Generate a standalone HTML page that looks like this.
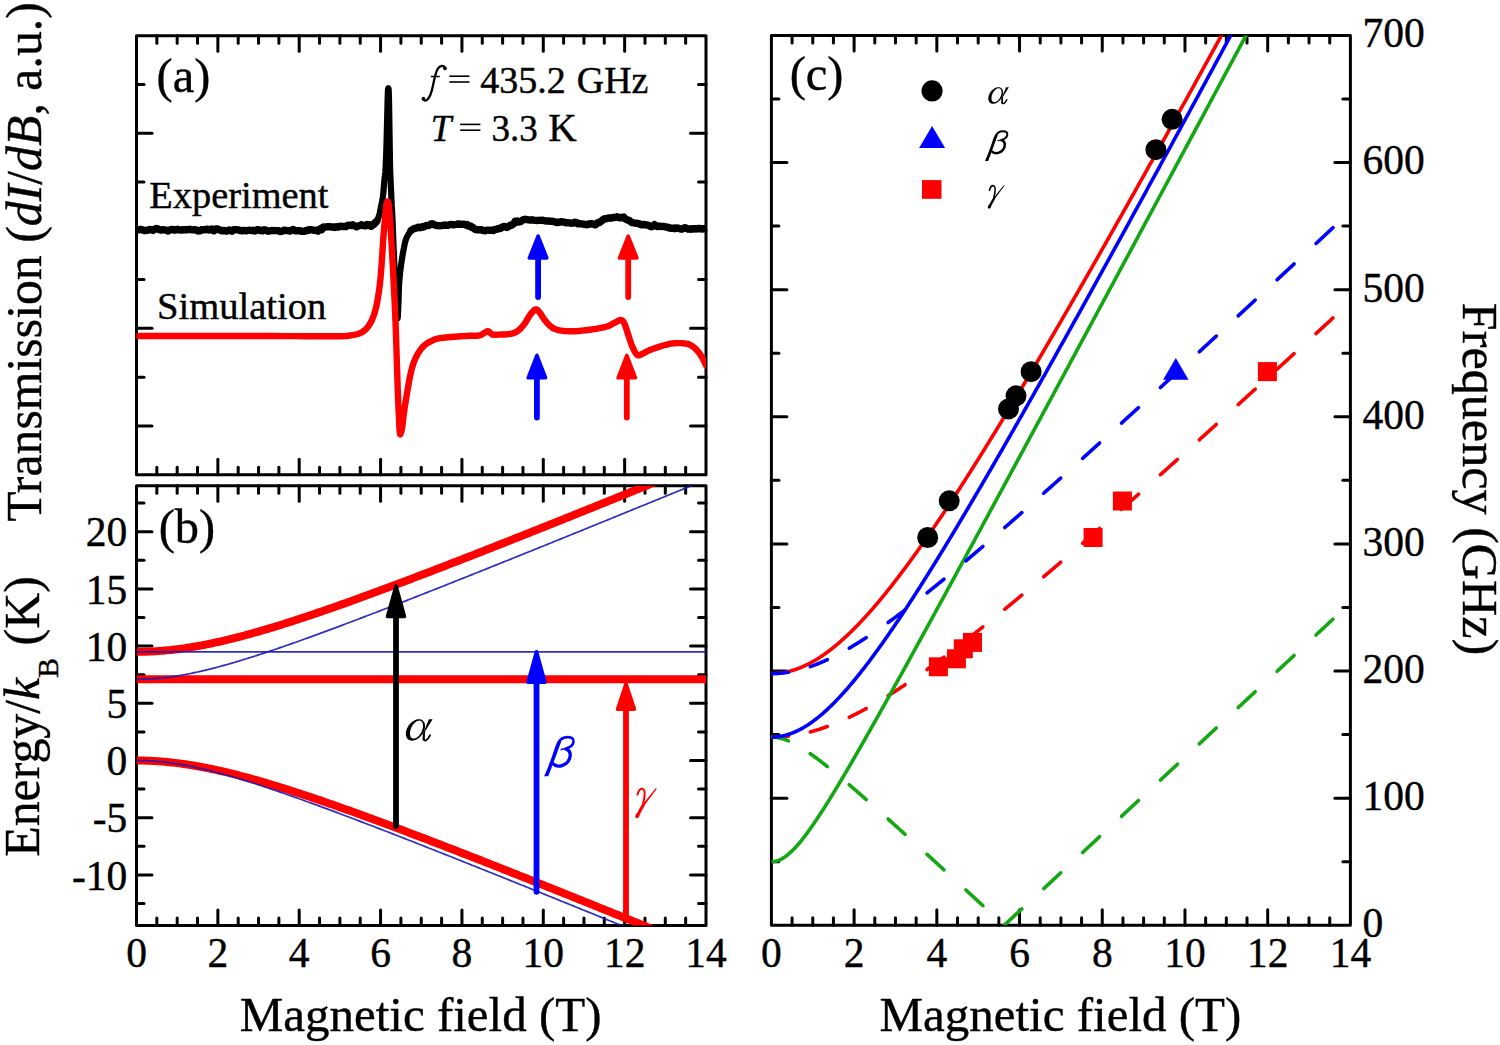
<!DOCTYPE html>
<html><head><meta charset="utf-8"><title>Figure</title>
<style>html,body{margin:0;padding:0;background:#fff;}body{width:1500px;height:1045px;overflow:hidden;font-family:"Liberation Serif",serif;}svg{display:block;}</style>
</head><body>
<svg width="1500" height="1045" viewBox="0 0 1500 1045" font-family="Liberation Serif, serif">
<rect width="1500" height="1045" fill="#fff"/>
<defs><clipPath id="ca"><rect x="136.5" y="35.7" width="569.5" height="439.0"/></clipPath>
<clipPath id="cb"><rect x="136.5" y="485.8" width="569.5" height="439.59999999999997"/></clipPath>
<clipPath id="cc"><rect x="771.4" y="35.4" width="579.0000000000001" height="889.9"/></clipPath></defs>
<rect x="136.5" y="35.7" width="569.5" height="439" fill="none" stroke="#000" stroke-width="3.0" stroke-linejoin="round"/>
<line x1="156.84" y1="474.7" x2="156.84" y2="467.2" stroke="#000" stroke-width="3.0" stroke-linecap="round"/>
<line x1="156.84" y1="35.7" x2="156.84" y2="43.2" stroke="#000" stroke-width="3.0" stroke-linecap="round"/>
<line x1="177.18" y1="474.7" x2="177.18" y2="467.2" stroke="#000" stroke-width="3.0" stroke-linecap="round"/>
<line x1="177.18" y1="35.7" x2="177.18" y2="43.2" stroke="#000" stroke-width="3.0" stroke-linecap="round"/>
<line x1="197.52" y1="474.7" x2="197.52" y2="467.2" stroke="#000" stroke-width="3.0" stroke-linecap="round"/>
<line x1="197.52" y1="35.7" x2="197.52" y2="43.2" stroke="#000" stroke-width="3.0" stroke-linecap="round"/>
<line x1="217.86" y1="474.7" x2="217.86" y2="459.2" stroke="#000" stroke-width="3.0" stroke-linecap="round"/>
<line x1="217.86" y1="35.7" x2="217.86" y2="51.2" stroke="#000" stroke-width="3.0" stroke-linecap="round"/>
<line x1="238.2" y1="474.7" x2="238.2" y2="467.2" stroke="#000" stroke-width="3.0" stroke-linecap="round"/>
<line x1="238.2" y1="35.7" x2="238.2" y2="43.2" stroke="#000" stroke-width="3.0" stroke-linecap="round"/>
<line x1="258.54" y1="474.7" x2="258.54" y2="467.2" stroke="#000" stroke-width="3.0" stroke-linecap="round"/>
<line x1="258.54" y1="35.7" x2="258.54" y2="43.2" stroke="#000" stroke-width="3.0" stroke-linecap="round"/>
<line x1="278.88" y1="474.7" x2="278.88" y2="467.2" stroke="#000" stroke-width="3.0" stroke-linecap="round"/>
<line x1="278.88" y1="35.7" x2="278.88" y2="43.2" stroke="#000" stroke-width="3.0" stroke-linecap="round"/>
<line x1="299.21" y1="474.7" x2="299.21" y2="459.2" stroke="#000" stroke-width="3.0" stroke-linecap="round"/>
<line x1="299.21" y1="35.7" x2="299.21" y2="51.2" stroke="#000" stroke-width="3.0" stroke-linecap="round"/>
<line x1="319.55" y1="474.7" x2="319.55" y2="467.2" stroke="#000" stroke-width="3.0" stroke-linecap="round"/>
<line x1="319.55" y1="35.7" x2="319.55" y2="43.2" stroke="#000" stroke-width="3.0" stroke-linecap="round"/>
<line x1="339.89" y1="474.7" x2="339.89" y2="467.2" stroke="#000" stroke-width="3.0" stroke-linecap="round"/>
<line x1="339.89" y1="35.7" x2="339.89" y2="43.2" stroke="#000" stroke-width="3.0" stroke-linecap="round"/>
<line x1="360.23" y1="474.7" x2="360.23" y2="467.2" stroke="#000" stroke-width="3.0" stroke-linecap="round"/>
<line x1="360.23" y1="35.7" x2="360.23" y2="43.2" stroke="#000" stroke-width="3.0" stroke-linecap="round"/>
<line x1="380.57" y1="474.7" x2="380.57" y2="459.2" stroke="#000" stroke-width="3.0" stroke-linecap="round"/>
<line x1="380.57" y1="35.7" x2="380.57" y2="51.2" stroke="#000" stroke-width="3.0" stroke-linecap="round"/>
<line x1="400.91" y1="474.7" x2="400.91" y2="467.2" stroke="#000" stroke-width="3.0" stroke-linecap="round"/>
<line x1="400.91" y1="35.7" x2="400.91" y2="43.2" stroke="#000" stroke-width="3.0" stroke-linecap="round"/>
<line x1="421.25" y1="474.7" x2="421.25" y2="467.2" stroke="#000" stroke-width="3.0" stroke-linecap="round"/>
<line x1="421.25" y1="35.7" x2="421.25" y2="43.2" stroke="#000" stroke-width="3.0" stroke-linecap="round"/>
<line x1="441.59" y1="474.7" x2="441.59" y2="467.2" stroke="#000" stroke-width="3.0" stroke-linecap="round"/>
<line x1="441.59" y1="35.7" x2="441.59" y2="43.2" stroke="#000" stroke-width="3.0" stroke-linecap="round"/>
<line x1="461.93" y1="474.7" x2="461.93" y2="459.2" stroke="#000" stroke-width="3.0" stroke-linecap="round"/>
<line x1="461.93" y1="35.7" x2="461.93" y2="51.2" stroke="#000" stroke-width="3.0" stroke-linecap="round"/>
<line x1="482.27" y1="474.7" x2="482.27" y2="467.2" stroke="#000" stroke-width="3.0" stroke-linecap="round"/>
<line x1="482.27" y1="35.7" x2="482.27" y2="43.2" stroke="#000" stroke-width="3.0" stroke-linecap="round"/>
<line x1="502.61" y1="474.7" x2="502.61" y2="467.2" stroke="#000" stroke-width="3.0" stroke-linecap="round"/>
<line x1="502.61" y1="35.7" x2="502.61" y2="43.2" stroke="#000" stroke-width="3.0" stroke-linecap="round"/>
<line x1="522.95" y1="474.7" x2="522.95" y2="467.2" stroke="#000" stroke-width="3.0" stroke-linecap="round"/>
<line x1="522.95" y1="35.7" x2="522.95" y2="43.2" stroke="#000" stroke-width="3.0" stroke-linecap="round"/>
<line x1="543.29" y1="474.7" x2="543.29" y2="459.2" stroke="#000" stroke-width="3.0" stroke-linecap="round"/>
<line x1="543.29" y1="35.7" x2="543.29" y2="51.2" stroke="#000" stroke-width="3.0" stroke-linecap="round"/>
<line x1="563.62" y1="474.7" x2="563.62" y2="467.2" stroke="#000" stroke-width="3.0" stroke-linecap="round"/>
<line x1="563.62" y1="35.7" x2="563.62" y2="43.2" stroke="#000" stroke-width="3.0" stroke-linecap="round"/>
<line x1="583.96" y1="474.7" x2="583.96" y2="467.2" stroke="#000" stroke-width="3.0" stroke-linecap="round"/>
<line x1="583.96" y1="35.7" x2="583.96" y2="43.2" stroke="#000" stroke-width="3.0" stroke-linecap="round"/>
<line x1="604.3" y1="474.7" x2="604.3" y2="467.2" stroke="#000" stroke-width="3.0" stroke-linecap="round"/>
<line x1="604.3" y1="35.7" x2="604.3" y2="43.2" stroke="#000" stroke-width="3.0" stroke-linecap="round"/>
<line x1="624.64" y1="474.7" x2="624.64" y2="459.2" stroke="#000" stroke-width="3.0" stroke-linecap="round"/>
<line x1="624.64" y1="35.7" x2="624.64" y2="51.2" stroke="#000" stroke-width="3.0" stroke-linecap="round"/>
<line x1="644.98" y1="474.7" x2="644.98" y2="467.2" stroke="#000" stroke-width="3.0" stroke-linecap="round"/>
<line x1="644.98" y1="35.7" x2="644.98" y2="43.2" stroke="#000" stroke-width="3.0" stroke-linecap="round"/>
<line x1="665.32" y1="474.7" x2="665.32" y2="467.2" stroke="#000" stroke-width="3.0" stroke-linecap="round"/>
<line x1="665.32" y1="35.7" x2="665.32" y2="43.2" stroke="#000" stroke-width="3.0" stroke-linecap="round"/>
<line x1="685.66" y1="474.7" x2="685.66" y2="467.2" stroke="#000" stroke-width="3.0" stroke-linecap="round"/>
<line x1="685.66" y1="35.7" x2="685.66" y2="43.2" stroke="#000" stroke-width="3.0" stroke-linecap="round"/>
<line x1="136.5" y1="84.48" x2="144" y2="84.48" stroke="#000" stroke-width="3.0" stroke-linecap="round"/>
<line x1="706" y1="84.48" x2="698.5" y2="84.48" stroke="#000" stroke-width="3.0" stroke-linecap="round"/>
<line x1="136.5" y1="133.26" x2="152" y2="133.26" stroke="#000" stroke-width="3.0" stroke-linecap="round"/>
<line x1="706" y1="133.26" x2="690.5" y2="133.26" stroke="#000" stroke-width="3.0" stroke-linecap="round"/>
<line x1="136.5" y1="182.03" x2="144" y2="182.03" stroke="#000" stroke-width="3.0" stroke-linecap="round"/>
<line x1="706" y1="182.03" x2="698.5" y2="182.03" stroke="#000" stroke-width="3.0" stroke-linecap="round"/>
<line x1="136.5" y1="230.81" x2="152" y2="230.81" stroke="#000" stroke-width="3.0" stroke-linecap="round"/>
<line x1="706" y1="230.81" x2="690.5" y2="230.81" stroke="#000" stroke-width="3.0" stroke-linecap="round"/>
<line x1="136.5" y1="279.59" x2="144" y2="279.59" stroke="#000" stroke-width="3.0" stroke-linecap="round"/>
<line x1="706" y1="279.59" x2="698.5" y2="279.59" stroke="#000" stroke-width="3.0" stroke-linecap="round"/>
<line x1="136.5" y1="328.37" x2="152" y2="328.37" stroke="#000" stroke-width="3.0" stroke-linecap="round"/>
<line x1="706" y1="328.37" x2="690.5" y2="328.37" stroke="#000" stroke-width="3.0" stroke-linecap="round"/>
<line x1="136.5" y1="377.14" x2="144" y2="377.14" stroke="#000" stroke-width="3.0" stroke-linecap="round"/>
<line x1="706" y1="377.14" x2="698.5" y2="377.14" stroke="#000" stroke-width="3.0" stroke-linecap="round"/>
<line x1="136.5" y1="425.92" x2="152" y2="425.92" stroke="#000" stroke-width="3.0" stroke-linecap="round"/>
<line x1="706" y1="425.92" x2="690.5" y2="425.92" stroke="#000" stroke-width="3.0" stroke-linecap="round"/>
<g clip-path="url(#ca)"><polyline points="136.5,229.92 137.78,229.81 139.06,229.8 140.14,229.34 141.23,229.35 142.31,229.8 143.59,230.23 144.87,230.63 146.15,230.36 147.22,230.35 148.3,230.08 149.38,229.48 150.46,229.63 151.62,229.73 152.79,230.42 153.96,229.61 155.12,228.9 156.35,228.46 157.58,228.85 158.81,229.51 160.04,229.77 161.06,230.09 162.07,229.79 163.08,229.91 164.09,229.87 165.1,229.87 166.12,230.31 167.14,230.37 168.15,230.96 169.17,230.22 170.19,229.81 171.19,229.33 172.19,229.5 173.19,229.93 174.19,230.12 175.19,230.02 176.39,229.52 177.6,229.28 178.8,229.81 180,229.87 181.18,230.11 182.37,229.87 183.55,229.66 184.74,229.6 185.95,229.89 187.16,229.73 188.37,229.62 189.58,229.18 190.82,229.56 192.05,229.83 193.29,229.85 194.52,229.65 195.52,229.76 196.53,230 197.53,230.77 198.53,230.97 199.53,230.88 200.54,230.63 201.56,229.76 202.57,229.85 203.58,229.63 204.59,229.9 205.61,229.31 206.63,229.21 207.65,229.19 208.67,230 209.69,229.67 210.71,229.39 211.73,229.06 212.75,230.17 213.77,230.82 214.8,230.15 215.82,228.9 216.84,228.84 217.86,229.21 218.88,229.66 219.9,229.86 220.91,230.45 221.93,230.86 222.94,230.64 223.96,230.43 224.97,230.89 225.98,231.02 226.98,231.05 227.99,230.72 228.99,230.04 230,230.28 231.02,230.42 232.04,231.09 233.05,230.06 234.07,229.56 235.09,229.67 236.14,229.72 237.18,229.87 238.23,229.93 239.27,230.09 240.32,230.66 241.38,230.52 242.44,230.89 243.51,230.49 244.57,230.52 245.63,230.61 246.7,230.88 247.76,230.47 248.83,230.3 249.89,230.27 250.96,230.49 252.02,230.35 253.08,230.32 254.13,230.78 255.19,230.93 256.25,230.19 257.29,229.69 258.33,229.79 259.36,230.13 260.4,230.62 261.44,230.35 262.45,230.85 263.45,230 264.46,230.08 265.46,229.89 266.47,230.65 267.67,231.18 268.88,231.09 270.08,230.78 271.28,230.56 272.41,230.64 273.54,230.55 274.68,230.59 275.81,230.59 276.86,230.65 277.9,230.81 278.95,230.82 280,231.46 281.3,231.33 282.6,231.02 283.9,230.28 285.12,230.18 286.35,230.62 287.58,230.64 288.75,230.78 289.91,231.08 291.07,230.39 292.16,229.93 293.26,229.44 294.35,230.39 295.38,230.83 296.41,230.63 297.44,230.73 298.88,230.76 300.33,230.75 301.68,231.32 303.03,231.35 304.28,231.35 305.54,230.55 306.7,230.36 307.86,230.51 308.93,229.66 310,229.56 311.9,229.85 313.51,230.29 314.89,230.35 316.06,230.25 317.06,230.8 317.94,231.18 318.74,230.21 319.49,229.68 320.23,228.93 321,229.48 321.7,229.71 322.24,228.69 322.66,228.52 323,227.38 323.31,228.1 323.64,226.94 324.03,227.14 324.52,227 325.16,227.18 326,226.99 327.01,226.73 328.13,226.74 329.35,226.6 330.66,226.82 332.06,227.11 333.54,227.06 335.08,227.45 336.67,226.76 338.32,227.13 340,226.14 341.81,226.49 343.81,226.35 344.87,226.47 345.94,226.59 347.04,225.84 348.14,225.25 349.26,225.2 350.38,225.34 351.48,225.45 352.58,224.74 353.63,225.4 354.69,225.92 356.67,226.77 358.46,225.98 360,225.67 361.3,224.77 362.43,225.22 363.41,225.65 364.26,225.64 365,225.82 365.66,225.55 366.27,225.71 366.85,224.53 367.42,224.61 368,224.59 368.56,225.01 369.05,224.71 369.48,224.91 369.87,225.63 370.22,225.24 370.56,225.51 370.9,225.52 371.24,226.28 371.6,225.8 372,224.97 372.43,224.66 372.88,224.56 373.33,224.61 373.79,224.49 374.26,224.08 374.71,222.99 375.16,222.8 375.6,222.29 376.01,222.02 376.4,221.55 376.77,221.06 377.12,220.36 377.47,219.7 377.8,219 378.11,218.3 378.42,217.44 378.71,216.67 378.98,215.84 379.25,215.1 379.5,214.15 379.73,213.27 379.94,212.18 380.14,211.27 380.32,210.19 380.49,209.46 380.65,208.53 380.81,207.73 380.97,206.73 381.13,205.89 381.3,204.95 381.48,204.11 381.65,203.4 381.83,202.65 382,201.89 382.18,201.04 382.35,200.19 382.52,199.19 382.68,198.12 382.84,197.14 383,195.93 383.15,194.58 383.31,193.06 383.45,191.57 383.6,189.88 383.74,188.1 383.88,186.29 384.02,184.49 384.15,182.7 384.28,181.13 384.4,179.92 384.52,178.85 384.63,177.91 384.73,177.02 384.83,176.27 384.93,175.66 385.03,174.95 385.12,174.3 385.21,173.25 385.31,172.25 385.4,170.83 385.49,169.27 385.59,167.53 385.68,165.64 385.73,164.61 385.78,163.49 385.82,162.46 385.87,161.5 385.91,160.49 385.96,159.4 386,158.33 386.05,157.16 386.09,156.03 386.13,154.86 386.18,153.69 386.22,152.29 386.26,151.13 386.3,150.01 386.34,148.92 386.38,147.63 386.42,146.42 386.45,145.07 386.49,143.84 386.53,142.58 386.56,141.31 386.6,140 386.63,138.63 386.67,137.34 386.7,135.99 386.74,134.58 386.77,133.19 386.8,131.8 386.84,130.44 386.87,129.22 386.9,127.92 386.93,126.58 386.97,125.19 387,123.9 387.03,122.7 387.06,121.5 387.1,120.17 387.13,118.76 387.16,117.6 387.19,116.42 387.23,115.2 387.26,113.56 387.29,112.24 387.32,110.94 387.35,109.96 387.38,108.7 387.41,107.47 387.44,106.2 387.47,104.93 387.49,103.88 387.52,102.84 387.55,101.89 387.6,100.06 387.65,98.51 387.69,96.98 387.73,95.51 387.76,94.21 387.8,93.24 387.84,92.3 387.87,91.38 387.91,90.76 387.95,90.2 388,89.62 388.05,88.93 388.11,88.61 388.17,88.48 388.24,88.53 388.3,88.42 388.36,88.35 388.43,88.41 388.49,88.48 388.55,88.86 388.6,89.31 388.65,90.05 388.69,90.7 388.73,91.43 388.77,92.27 388.81,93.3 388.85,94.42 388.89,95.6 388.92,96.9 388.96,98.4 389,100.03 389.04,101.85 389.06,102.79 389.08,103.81 389.1,104.98 389.12,106.15 389.14,107.34 389.16,108.55 389.18,109.78 389.2,110.95 389.22,112.26 389.24,113.62 389.26,115.04 389.28,116.31 389.3,117.59 389.32,118.81 389.34,120 389.36,121.28 389.38,122.55 389.4,123.99 389.42,125.19 389.44,126.35 389.46,127.55 389.48,129.02 389.5,130.49 389.52,131.8 389.54,132.99 389.56,134.39 389.58,135.86 389.6,137.26 389.62,138.66 389.64,140.01 389.66,141.32 389.68,142.59 389.7,143.94 389.72,145.29 389.74,146.57 389.76,147.65 389.78,148.78 389.8,149.97 389.82,151.19 389.84,152.43 389.86,153.57 389.88,154.79 389.9,155.84 389.91,157.09 389.93,158.22 389.95,159.32 389.97,160.24 389.99,161.41 390.01,162.45 390.03,163.54 390.05,164.45 390.07,165.49 390.11,167.32 390.15,169.14 390.2,170.96 390.25,172.79 390.31,174.38 390.36,175.81 390.42,177.16 390.48,178.46 390.54,179.77 390.61,181 390.67,182.25 390.74,183.62 390.8,184.96 390.86,186.36 390.93,187.72 390.99,189.07 391.05,190.47 391.12,191.75 391.19,193.25 391.26,194.82 391.33,196.56 391.41,198.28 391.5,200.02 391.59,201.8 391.65,202.94 391.7,203.99 391.75,205.21 391.81,206.1 391.86,207.15 391.92,208.07 391.98,209.3 392.04,210.49 392.1,211.63 392.16,212.73 392.21,213.87 392.27,215.03 392.33,216.08 392.39,217.13 392.44,218.35 392.5,219.53 392.55,220.74 392.6,221.93 392.65,223.15 392.69,224.28 392.74,225.4 392.78,226.48 392.82,227.36 392.86,228.25 392.89,229.12 392.93,230.14 392.97,231.2 393.01,232.3 393.05,233.48 393.08,234.46 393.13,235.53 393.17,236.64 393.22,237.97 393.27,239.26 393.32,240.62 393.37,241.94 393.44,243.5 393.5,245.02 393.55,246.18 393.6,247.2 393.64,248.28 393.69,249.34 393.75,250.55 393.8,251.79 393.86,253.18 393.91,254.58 393.97,255.9 394.01,256.94 394.06,257.95 394.1,258.95 394.15,260.11 394.19,261.23 394.24,262.31 394.28,263.29 394.33,264.31 394.38,265.39 394.43,266.56 394.47,267.67 394.52,268.71 394.57,269.65 394.62,270.68 394.67,271.75 394.72,272.84 394.77,273.9 394.81,274.97 394.86,276.09 394.91,277.18 394.96,278.2 395.01,279.35 395.06,280.3 395.11,281.4 395.17,282.53 395.24,283.88 395.3,284.93 395.37,286.14 395.43,287.35 395.5,288.8 395.55,290 395.6,291 395.65,292.05 395.7,292.95 395.75,294.01 395.81,294.99 395.86,295.95 395.91,296.95 395.97,297.87 396.02,298.97 396.08,299.89 396.13,300.99 396.2,302.35 396.27,303.71 396.34,305 396.41,306.15 396.48,307.38 396.56,308.54 396.62,309.57 396.69,310.69 396.76,311.87 396.86,313.18 396.95,314.63 397.04,315.75 397.14,316.85 397.3,318.12 397.45,318.53 397.58,318.4 397.71,317.49 397.82,316.21 397.93,314.34 397.97,313.34 398.02,312.33 398.07,311.36 398.12,310.32 398.17,309.14 398.21,308.01 398.26,306.95 398.31,305.96 398.4,304.11 398.49,302.37 398.56,300.38 398.58,299.41 398.61,298.33 398.64,297.35 398.67,296.11 398.7,295.03 398.72,293.78 398.76,292.84 398.79,291.82 398.82,290.75 398.86,289.43 398.9,288.14 398.95,287.19 399,286.16 399.06,285.17 399.13,284.01 399.2,282.97 399.28,281.85 399.36,280.82 399.45,279.69 399.54,278.71 399.63,277.67 399.73,276.74 399.83,275.68 399.93,274.56 400.04,273.49 400.15,272.42 400.27,271.53 400.39,270.52 400.51,269.49 400.64,268.31 400.77,267.17 400.91,266.07 401.05,265.02 401.19,264.04 401.35,263.08 401.5,262.09 401.66,261.12 401.83,259.97 402.01,258.82 402.18,257.74 402.37,256.52 402.56,255.35 402.76,254.03 402.95,253.01 403.16,251.93 403.36,250.77 403.57,249.68 403.78,248.55 404,247.55 404.21,246.35 404.43,245.3 404.64,244.26 405.07,242.49 405.5,240.87 405.93,239.5 406.38,238.27 406.83,237.28 407.29,236.31 407.75,235.51 408.21,234.72 408.67,233.96 409.12,233.19 409.57,232.52 410,231.94 410.41,231.42 410.78,230.92 411.13,230.51 411.48,230.13 411.82,229.86 412.19,229.65 412.57,229.42 413,229.15 413.47,228.8 414,228.7 414.58,228.49 415.19,228.38 415.84,228.09 416.52,228 417.23,227.6 417.98,227.16 418.76,227.51 419.57,227.68 420.42,227.55 421.3,227.17 422.21,226.64 423.14,227.09 424.09,226.71 425.08,226 426.11,225.52 427.18,225.61 428.29,225.65 429.47,225.17 430.7,224.09 432,223.76 433.39,224.12 434.86,225.07 436.41,225.61 438.02,225.64 439.67,225.88 441.35,225.66 443.03,225.45 444.72,224.96 446.38,225.33 448,225.22 449.65,224.63 451.37,224.46 453.14,224.74 454.91,224.57 456.67,224.28 458.37,223.9 459.99,224.34 461.48,224.28 462.83,224.38 464,224.12 464.96,224.54 465.74,225.08 466.37,225.17 466.89,225.23 467.31,224.69 467.69,225 468.04,225.16 468.4,226.08 468.81,226.16 469.3,226.13 469.81,225.99 470.29,225.96 470.75,226.34 471.2,226.45 471.67,227.43 472.16,227.45 472.69,227.42 473.29,227.66 473.95,228.41 474.7,229.12 475.53,229.62 476.4,229.66 477.33,229.84 478.31,229.89 479.34,229.63 480.42,229.73 481.56,229.66 482.75,230.48 484,230.65 485.3,230.71 486.71,230.14 488.24,230.14 489.87,230.37 491.57,230.13 493.29,230.51 495.02,229.49 496.72,229.41 498.35,228.39 499.89,228.6 501.3,227.89 502.58,226.85 503.78,226.38 504.9,226.67 505.96,227.16 506.98,227.43 507.97,226.85 508.96,226.35 509.94,225.42 510.95,225.08 512,225.14 513.05,224.05 514.06,223.37 515.04,221.3 516.03,221.48 517.02,221.02 518.04,221.97 519.1,221.98 520.22,221.73 521.42,221.04 522.7,219.96 524.09,219.52 525.56,219.28 527.11,219.57 528.72,219.82 530.37,220.05 532.05,219.82 533.73,220.15 535.42,220.35 537.08,220.43 538.7,220.42 540.3,220.3 541.89,220.08 543.48,220.46 545.07,220.8 546.66,221.01 548.26,221.05 549.86,221.18 551.46,221.15 553.08,221.48 554.7,221.62 556.31,222.54 557.9,222.24 559.48,222.23 561.07,221.6 562.66,222 564.29,222.2 565.95,222.74 567.66,222.68 569.44,222.82 571.3,223.25 572.3,223.09 573.31,223.11 574.4,222.29 575.5,222.35 576.65,222.65 577.81,223.82 579,223.92 580.19,223.74 581.39,223.88 582.58,223.97 583.75,224.3 584.92,224.39 586.04,224.55 587.17,224.76 588.21,224.04 589.25,224.12 591.11,223.74 592.7,223.98 593.99,224.21 595.04,224.89 595.88,224.52 596.57,223.82 597.14,223.04 597.66,222.71 598.15,222.81 598.68,222.58 599.28,222.55 600,222.26 600.79,221.25 601.57,221.17 602.35,220.06 603.13,219.84 603.94,218.93 604.79,218.81 605.67,218.84 606.61,218.62 607.62,218.26 608.7,217.87 609.88,218.11 611.15,218.01 612.5,217.75 613.9,217.47 615.34,217.42 616.81,216.82 618.27,217.2 619.72,217.88 621.14,217.81 622.5,217.26 623.78,217.08 624.99,218.55 626.14,219.44 627.28,219.96 628.42,220.11 629.61,220.74 630.86,221.94 632.21,222.65 633.68,222.94 635.3,223.12 637.09,223.26 639.03,223.83 640.06,223.84 641.09,224.73 642.17,224.71 643.25,224.68 644.36,224.51 645.47,224.81 646.6,224.96 647.73,225.18 648.88,225.51 650.02,226.18 651.15,226.79 652.29,226.39 653.41,225.97 654.53,224.73 655.61,225.68 656.7,225.69 657.75,226.57 658.8,226.25 659.83,226.17 660.86,226.44 661.87,226.38 662.89,226.35 663.9,226.42 664.91,226.92 665.92,227.02 666.94,227.3 667.97,227.1 669,227.95 670.06,227.94 671.12,228.39 672.22,228.26 673.31,228.5 674.46,228.04 675.6,228.43 676.8,227.97 678,228.14 679.33,228.52 680.65,228.98 682.14,229.01 683.62,228.15 684.68,227.79 685.73,227.93 686.79,228.62 687.88,229.03 688.97,229.15 690.06,228.86 691.15,229.18 692.24,228.9 693.33,228.76 694.39,228.63 695.44,228.79 696.49,228.89 697.97,228.44 699.45,228.36 700.77,228.66 702.08,228.97 703.19,228.68 704.3,228.64 706,228.43" fill="none" stroke="#000" stroke-width="6.2" stroke-linejoin="round" stroke-linecap="round"/>
<polyline points="136.5,229.92 137.78,229.81 139.06,229.8 140.14,229.34 141.23,229.35 142.31,229.8 143.59,230.23 144.87,230.63 146.15,230.36 147.22,230.35 148.3,230.08 149.38,229.48 150.46,229.63 151.62,229.73 152.79,230.42 153.96,229.61 155.12,228.9 156.35,228.46 157.58,228.85 158.81,229.51 160.04,229.77 161.06,230.09 162.07,229.79 163.08,229.91 164.09,229.87 165.1,229.87 166.12,230.31 167.14,230.37 168.15,230.96 169.17,230.22 170.19,229.81 171.19,229.33 172.19,229.5 173.19,229.93 174.19,230.12 175.19,230.02 176.39,229.52 177.6,229.28 178.8,229.81 180,229.87 181.18,230.11 182.37,229.87 183.55,229.66 184.74,229.6 185.95,229.89 187.16,229.73 188.37,229.62 189.58,229.18 190.82,229.56 192.05,229.83 193.29,229.85 194.52,229.65 195.52,229.76 196.53,230 197.53,230.77 198.53,230.97 199.53,230.88 200.54,230.63 201.56,229.76 202.57,229.85 203.58,229.63 204.59,229.9 205.61,229.31 206.63,229.21 207.65,229.19 208.67,230 209.69,229.67 210.71,229.39 211.73,229.06 212.75,230.17 213.77,230.82 214.8,230.15 215.82,228.9 216.84,228.84 217.86,229.21 218.88,229.66 219.9,229.86 220.91,230.45 221.93,230.86 222.94,230.64 223.96,230.43 224.97,230.89 225.98,231.02 226.98,231.05 227.99,230.72 228.99,230.04 230,230.28 231.02,230.42 232.04,231.09 233.05,230.06 234.07,229.56 235.09,229.67 236.14,229.72 237.18,229.87 238.23,229.93 239.27,230.09 240.32,230.66 241.38,230.52 242.44,230.89 243.51,230.49 244.57,230.52 245.63,230.61 246.7,230.88 247.76,230.47 248.83,230.3 249.89,230.27 250.96,230.49 252.02,230.35 253.08,230.32 254.13,230.78 255.19,230.93 256.25,230.19 257.29,229.69 258.33,229.79 259.36,230.13 260.4,230.62 261.44,230.35 262.45,230.85 263.45,230 264.46,230.08 265.46,229.89 266.47,230.65 267.67,231.18 268.88,231.09 270.08,230.78 271.28,230.56 272.41,230.64 273.54,230.55 274.68,230.59 275.81,230.59 276.86,230.65 277.9,230.81 278.95,230.82 280,231.46 281.3,231.33 282.6,231.02 283.9,230.28 285.12,230.18 286.35,230.62 287.58,230.64 288.75,230.78 289.91,231.08 291.07,230.39 292.16,229.93 293.26,229.44 294.35,230.39 295.38,230.83 296.41,230.63 297.44,230.73 298.88,230.76 300.33,230.75 301.68,231.32 303.03,231.35 304.28,231.35 305.54,230.55 306.7,230.36 307.86,230.51 308.93,229.66 310,229.56 311.9,229.85 313.51,230.29 314.89,230.35 316.06,230.25 317.06,230.8 317.94,231.18 318.74,230.21 319.49,229.68 320.23,228.93 321,229.48 321.7,229.71 322.24,228.69 322.66,228.52 323,227.38 323.31,228.1 323.64,226.94 324.03,227.14 324.52,227 325.16,227.18 326,226.99 327.01,226.73 328.13,226.74 329.35,226.6 330.66,226.82 332.06,227.11 333.54,227.06 335.08,227.45 336.67,226.76 338.32,227.13 340,226.14 341.81,226.49 343.81,226.35 344.87,226.47 345.94,226.59 347.04,225.84 348.14,225.25 349.26,225.2 350.38,225.34 351.48,225.45 352.58,224.74 353.63,225.4 354.69,225.92 356.67,226.77 358.46,225.98 360,225.67 361.3,224.77 362.43,225.22 363.41,225.65 364.26,225.64 365,225.82 365.66,225.55 366.27,225.71 366.85,224.53 367.42,224.61 368,224.59 368.56,225.01 369.05,224.71 369.48,224.91 369.87,225.63 370.22,225.24 370.56,225.51 370.9,225.52 371.24,226.28 371.6,225.8 372,224.97 372.43,224.66 372.88,224.56 373.33,224.61 373.79,224.49 374.26,224.08 374.71,222.99 375.16,222.8 375.6,222.29 376.01,222.02 376.4,221.55 376.77,221.06" fill="none" stroke="#000" stroke-width="7.4" stroke-linejoin="round" stroke-linecap="round"/>
<polyline points="411.13,230.51 411.48,230.13 411.82,229.86 412.19,229.65 412.57,229.42 413,229.15 413.47,228.8 414,228.7 414.58,228.49 415.19,228.38 415.84,228.09 416.52,228 417.23,227.6 417.98,227.16 418.76,227.51 419.57,227.68 420.42,227.55 421.3,227.17 422.21,226.64 423.14,227.09 424.09,226.71 425.08,226 426.11,225.52 427.18,225.61 428.29,225.65 429.47,225.17 430.7,224.09 432,223.76 433.39,224.12 434.86,225.07 436.41,225.61 438.02,225.64 439.67,225.88 441.35,225.66 443.03,225.45 444.72,224.96 446.38,225.33 448,225.22 449.65,224.63 451.37,224.46 453.14,224.74 454.91,224.57 456.67,224.28 458.37,223.9 459.99,224.34 461.48,224.28 462.83,224.38 464,224.12 464.96,224.54 465.74,225.08 466.37,225.17 466.89,225.23 467.31,224.69 467.69,225 468.04,225.16 468.4,226.08 468.81,226.16 469.3,226.13 469.81,225.99 470.29,225.96 470.75,226.34 471.2,226.45 471.67,227.43 472.16,227.45 472.69,227.42 473.29,227.66 473.95,228.41 474.7,229.12 475.53,229.62 476.4,229.66 477.33,229.84 478.31,229.89 479.34,229.63 480.42,229.73 481.56,229.66 482.75,230.48 484,230.65 485.3,230.71 486.71,230.14 488.24,230.14 489.87,230.37 491.57,230.13 493.29,230.51 495.02,229.49 496.72,229.41 498.35,228.39 499.89,228.6 501.3,227.89 502.58,226.85 503.78,226.38 504.9,226.67 505.96,227.16 506.98,227.43 507.97,226.85 508.96,226.35 509.94,225.42 510.95,225.08 512,225.14 513.05,224.05 514.06,223.37 515.04,221.3 516.03,221.48 517.02,221.02 518.04,221.97 519.1,221.98 520.22,221.73 521.42,221.04 522.7,219.96 524.09,219.52 525.56,219.28 527.11,219.57 528.72,219.82 530.37,220.05 532.05,219.82 533.73,220.15 535.42,220.35 537.08,220.43 538.7,220.42 540.3,220.3 541.89,220.08 543.48,220.46 545.07,220.8 546.66,221.01 548.26,221.05 549.86,221.18 551.46,221.15 553.08,221.48 554.7,221.62 556.31,222.54 557.9,222.24 559.48,222.23 561.07,221.6 562.66,222 564.29,222.2 565.95,222.74 567.66,222.68 569.44,222.82 571.3,223.25 572.3,223.09 573.31,223.11 574.4,222.29 575.5,222.35 576.65,222.65 577.81,223.82 579,223.92 580.19,223.74 581.39,223.88 582.58,223.97 583.75,224.3 584.92,224.39 586.04,224.55 587.17,224.76 588.21,224.04 589.25,224.12 591.11,223.74 592.7,223.98 593.99,224.21 595.04,224.89 595.88,224.52 596.57,223.82 597.14,223.04 597.66,222.71 598.15,222.81 598.68,222.58 599.28,222.55 600,222.26 600.79,221.25 601.57,221.17 602.35,220.06 603.13,219.84 603.94,218.93 604.79,218.81 605.67,218.84 606.61,218.62 607.62,218.26 608.7,217.87 609.88,218.11 611.15,218.01 612.5,217.75 613.9,217.47 615.34,217.42 616.81,216.82 618.27,217.2 619.72,217.88 621.14,217.81 622.5,217.26 623.78,217.08 624.99,218.55 626.14,219.44 627.28,219.96 628.42,220.11 629.61,220.74 630.86,221.94 632.21,222.65 633.68,222.94 635.3,223.12 637.09,223.26 639.03,223.83 640.06,223.84 641.09,224.73 642.17,224.71 643.25,224.68 644.36,224.51 645.47,224.81 646.6,224.96 647.73,225.18 648.88,225.51 650.02,226.18 651.15,226.79 652.29,226.39 653.41,225.97 654.53,224.73 655.61,225.68 656.7,225.69 657.75,226.57 658.8,226.25 659.83,226.17 660.86,226.44 661.87,226.38 662.89,226.35 663.9,226.42 664.91,226.92 665.92,227.02 666.94,227.3 667.97,227.1 669,227.95 670.06,227.94 671.12,228.39 672.22,228.26 673.31,228.5 674.46,228.04 675.6,228.43 676.8,227.97 678,228.14 679.33,228.52 680.65,228.98 682.14,229.01 683.62,228.15 684.68,227.79 685.73,227.93 686.79,228.62 687.88,229.03 688.97,229.15 690.06,228.86 691.15,229.18 692.24,228.9 693.33,228.76 694.39,228.63 695.44,228.79 696.49,228.89 697.97,228.44 699.45,228.36 700.77,228.66 702.08,228.97 703.19,228.68 704.3,228.64 706,228.43" fill="none" stroke="#000" stroke-width="7.4" stroke-linejoin="round" stroke-linecap="round"/>
<polyline points="136.5,336 145.49,336 157.68,336 172.22,335.99 188.25,335.99 204.9,335.99 221.32,335.99 236.64,335.99 250,336 262.01,336.02 273.76,336.06 285.09,336.1 295.84,336.14 305.87,336.18 315,336.21 323.1,336.22 330,336.2 335.41,336.18 339.35,336.19 342.15,336.19 344.11,336.17 345.55,336.11 346.81,335.99 348.18,335.79 350,335.5 352.09,335.16 354.09,334.82 355.99,334.44 357.8,333.98 359.53,333.41 361.19,332.68 362.78,331.75 364.3,330.6 365.75,329.27 367.11,327.81 368.4,326.21 369.62,324.43 370.77,322.45 371.86,320.23 372.9,317.76 373.9,315 374.84,311.98 375.71,308.73 376.52,305.25 377.27,301.52 377.98,297.55 378.65,293.31 379.29,288.79 379.9,284 380.47,278.68 380.99,272.73 381.47,266.37 381.92,259.81 382.34,253.28 382.73,246.99 383.12,241.16 383.5,236 383.87,231.4 384.22,227.09 384.56,223.09 384.87,219.41 385.18,216.05 385.46,213.02 385.74,210.33 386,208 386.24,206.06 386.46,204.54 386.67,203.37 386.86,202.53 387.04,201.97 387.22,201.64 387.41,201.5 387.6,201.5 387.79,201.55 387.98,201.65 388.16,201.9 388.34,202.41 388.53,203.27 388.73,204.58 388.95,206.46 389.2,209 389.47,212.15 389.76,215.77 390.06,219.89 390.38,224.5 390.71,229.61 391.06,235.23 391.42,241.35 391.8,248 392.21,255.38 392.66,263.59 393.13,272.43 393.61,281.72 394.09,291.26 394.56,300.86 395,310.34 395.4,319.5 395.76,328.66 396.1,338.14 396.41,347.74 396.71,357.28 397,366.57 397.27,375.41 397.54,383.62 397.8,391 398.06,397.68 398.31,403.88 398.55,409.59 398.78,414.78 399,419.44 399.21,423.54 399.41,427.07 399.6,430 399.78,432.17 399.93,433.54 400.07,434.25 400.21,434.44 400.34,434.26 400.48,433.87 400.63,433.4 400.8,433 400.98,432.6 401.17,432.04 401.37,431.31 401.57,430.4 401.78,429.32 402.01,428.06 402.25,426.62 402.5,425 402.74,423.25 402.96,421.39 403.17,419.39 403.41,417.19 403.68,414.76 404.03,412.05 404.46,409.01 405,405.6 405.66,401.59 406.42,396.9 407.25,391.78 408.16,386.43 409.12,381.09 410.13,375.97 411.16,371.3 412.2,367.3 413.26,363.92 414.35,360.92 415.48,358.26 416.65,355.88 417.85,353.73 419.1,351.77 420.38,349.94 421.7,348.2 423.08,346.61 424.53,345.23 426.02,344.04 427.55,343.01 429.1,342.11 430.65,341.31 432.19,340.58 433.7,339.9 435.11,339.31 436.4,338.87 437.64,338.54 438.91,338.29 440.26,338.09 441.78,337.91 443.54,337.73 445.6,337.5 448.11,337.24 451.07,336.99 454.31,336.75 457.69,336.52 461.06,336.3 464.25,336.11 467.11,335.94 469.5,335.8 471.41,335.71 472.99,335.69 474.31,335.7 475.43,335.73 476.4,335.75 477.3,335.73 478.17,335.66 479.1,335.5 480.03,335.24 480.9,334.9 481.71,334.5 482.46,334.06 483.16,333.62 483.82,333.19 484.43,332.81 485,332.5 485.51,332.23 485.95,331.97 486.34,331.73 486.68,331.52 487,331.35 487.32,331.23 487.64,331.18 488,331.2 488.37,331.32 488.73,331.55 489.08,331.85 489.44,332.19 489.8,332.56 490.18,332.92 490.58,333.24 491,333.5 491.35,333.72 491.59,333.94 491.79,334.15 492.03,334.34 492.39,334.5 492.95,334.62 493.79,334.69 495,334.7 496.69,334.68 498.83,334.64 501.3,334.57 503.95,334.45 506.64,334.26 509.24,333.99 511.61,333.61 513.6,333.1 515.25,332.46 516.7,331.69 517.98,330.82 519.14,329.86 520.2,328.83 521.21,327.74 522.2,326.63 523.2,325.5 524.19,324.29 525.12,322.96 526.01,321.56 526.85,320.13 527.66,318.71 528.45,317.35 529.23,316.1 530,315 530.77,314 531.51,313.04 532.24,312.14 532.95,311.32 533.64,310.61 534.31,310.04 534.97,309.63 535.6,309.4 536.2,309.37 536.74,309.53 537.26,309.85 537.77,310.31 538.28,310.87 538.81,311.53 539.38,312.24 540,313 540.66,313.85 541.32,314.84 542.01,315.94 542.72,317.1 543.48,318.29 544.29,319.48 545.16,320.63 546.1,321.7 547.07,322.74 548.03,323.81 549.02,324.88 550.08,325.92 551.24,326.92 552.54,327.83 554.02,328.63 555.7,329.3 557.58,329.85 559.6,330.31 561.78,330.68 564.11,330.96 566.58,331.16 569.21,331.26 571.98,331.27 574.9,331.2 578.15,331.01 581.81,330.68 585.73,330.24 589.74,329.72 593.69,329.16 597.42,328.56 600.78,327.97 603.6,327.4 605.89,326.82 607.8,326.2 609.39,325.54 610.73,324.87 611.9,324.21 612.95,323.58 613.96,323.01 615,322.5 616.01,322.04 616.9,321.58 617.69,321.15 618.4,320.76 619.05,320.43 619.65,320.18 620.23,320.03 620.8,320 621.34,320.08 621.83,320.25 622.28,320.5 622.69,320.84 623.07,321.27 623.45,321.77 623.82,322.35 624.2,323 624.56,323.71 624.88,324.47 625.18,325.3 625.48,326.22 625.79,327.23 626.14,328.36 626.53,329.61 627,331 627.54,332.63 628.15,334.51 628.81,336.57 629.5,338.72 630.21,340.87 630.92,342.94 631.63,344.85 632.3,346.5 632.95,347.97 633.6,349.35 634.24,350.64 634.89,351.81 635.53,352.85 636.18,353.74 636.84,354.46 637.5,355 638.15,355.31 638.79,355.39 639.41,355.28 640.05,355.04 640.71,354.69 641.41,354.29 642.17,353.88 643,353.5 643.84,353.12 644.64,352.7 645.46,352.22 646.34,351.71 647.33,351.17 648.47,350.6 649.81,350.01 651.4,349.4 653.32,348.73 655.55,347.96 658.02,347.14 660.62,346.31 663.28,345.5 665.88,344.78 668.36,344.16 670.6,343.7 672.68,343.39 674.71,343.2 676.68,343.1 678.56,343.09 680.35,343.14 682.03,343.23 683.59,343.36 685,343.5 686.24,343.66 687.29,343.86 688.21,344.11 689.02,344.39 689.77,344.72 690.49,345.1 691.22,345.53 692,346 692.8,346.53 693.59,347.12 694.37,347.75 695.12,348.44 695.87,349.16 696.59,349.91 697.3,350.7 698,351.5 698.69,352.35 699.37,353.26 700.04,354.21 700.69,355.19 701.32,356.17 701.91,357.15 702.48,358.1 703,359 703.49,359.9 703.96,360.85 704.4,361.8 704.81,362.72 705.18,363.58 705.51,364.36 705.78,365.01 706,365.5" fill="none" stroke="#f00" stroke-width="6.4" stroke-linejoin="round" stroke-linecap="round"/></g>
<line x1="538.1" y1="297" x2="538.1" y2="258.8" stroke="#00f" stroke-width="5.8" stroke-linecap="round"/>
<polygon points="538.1,236.1 529.4,258 546.8,258" fill="#00f" stroke="#00f" stroke-width="3.6" stroke-linejoin="round"/>
<line x1="628.2" y1="297" x2="628.2" y2="258.8" stroke="#f00" stroke-width="5.8" stroke-linecap="round"/>
<polygon points="628.2,236.1 619.5,258 636.9,258" fill="#f00" stroke="#f00" stroke-width="3.6" stroke-linejoin="round"/>
<line x1="536.9" y1="417.5" x2="536.9" y2="378.6" stroke="#00f" stroke-width="5.8" stroke-linecap="round"/>
<polygon points="536.9,355.4 528.2,377.8 545.6,377.8" fill="#00f" stroke="#00f" stroke-width="3.6" stroke-linejoin="round"/>
<line x1="626.8" y1="417.5" x2="626.8" y2="378.6" stroke="#f00" stroke-width="5.8" stroke-linecap="round"/>
<polygon points="626.8,355.4 618.1,377.8 635.5,377.8" fill="#f00" stroke="#f00" stroke-width="3.6" stroke-linejoin="round"/>
<text x="156.6" y="91.7" font-size="48.4" text-anchor="start" fill="#000" stroke="#000" stroke-width="0.4"  >(a)</text>
<path d="M444.9,67.6 C443.6,65.2 440.0,65.4 437.9,68.6 C435.4,72.6 434.2,79.5 432.9,86.0 C431.6,92.6 429.6,97.8 427.0,99.9 C425.4,101.1 423.6,100.6 423.2,98.9" fill="none" stroke="#000" stroke-width="2.3" stroke-linecap="round"/><circle cx="445.0" cy="68.3" r="1.85" fill="#000"/><circle cx="423.4" cy="98.7" r="1.85" fill="#000"/><line x1="430.8" y1="76.5" x2="439.8" y2="76.5" stroke="#000" stroke-width="1.5"/>
<line x1="449.3" y1="76.2" x2="469.5" y2="76.2" stroke="#000" stroke-width="1.6" stroke-linecap="butt"/>
<line x1="449.3" y1="82" x2="469.5" y2="82" stroke="#000" stroke-width="1.6" stroke-linecap="butt"/>
<text x="480.3" y="92.5" font-size="37.5" text-anchor="start" fill="#000" stroke="#000" stroke-width="0.4"  textLength="85.5" lengthAdjust="spacingAndGlyphs">435.2</text>
<text x="576.8" y="92.5" font-size="37.5" text-anchor="start" fill="#000" stroke="#000" stroke-width="0.4"  textLength="71.5" lengthAdjust="spacingAndGlyphs">GHz</text>
<text x="430.7" y="140.8" font-size="37" text-anchor="start" fill="#000" stroke="#000" stroke-width="0.4" font-style="italic" >T</text>
<line x1="460.2" y1="124.4" x2="480.4" y2="124.4" stroke="#000" stroke-width="1.6" stroke-linecap="butt"/>
<line x1="460.2" y1="130.2" x2="480.4" y2="130.2" stroke="#000" stroke-width="1.6" stroke-linecap="butt"/>
<text x="491.5" y="140.8" font-size="37" text-anchor="start" fill="#000" stroke="#000" stroke-width="0.4"  >3.3</text>
<text x="548.3" y="140.8" font-size="39" text-anchor="start" fill="#000" stroke="#000" stroke-width="0.4"  textLength="28.5" lengthAdjust="spacingAndGlyphs">K</text>
<text x="149.3" y="208.3" font-size="38.4" text-anchor="start" fill="#000" stroke="#000" stroke-width="0.4"  >Experiment</text>
<text x="157" y="319.3" font-size="38.6" text-anchor="start" fill="#000" stroke="#000" stroke-width="0.4"  >Simulation</text>
<rect x="136.5" y="485.8" width="569.5" height="439.6" fill="none" stroke="#000" stroke-width="3.0" stroke-linejoin="round"/>
<line x1="156.84" y1="925.4" x2="156.84" y2="917.9" stroke="#000" stroke-width="3.0" stroke-linecap="round"/>
<line x1="156.84" y1="485.8" x2="156.84" y2="493.3" stroke="#000" stroke-width="3.0" stroke-linecap="round"/>
<line x1="177.18" y1="925.4" x2="177.18" y2="917.9" stroke="#000" stroke-width="3.0" stroke-linecap="round"/>
<line x1="177.18" y1="485.8" x2="177.18" y2="493.3" stroke="#000" stroke-width="3.0" stroke-linecap="round"/>
<line x1="197.52" y1="925.4" x2="197.52" y2="917.9" stroke="#000" stroke-width="3.0" stroke-linecap="round"/>
<line x1="197.52" y1="485.8" x2="197.52" y2="493.3" stroke="#000" stroke-width="3.0" stroke-linecap="round"/>
<line x1="217.86" y1="925.4" x2="217.86" y2="909.9" stroke="#000" stroke-width="3.0" stroke-linecap="round"/>
<line x1="217.86" y1="485.8" x2="217.86" y2="501.3" stroke="#000" stroke-width="3.0" stroke-linecap="round"/>
<line x1="238.2" y1="925.4" x2="238.2" y2="917.9" stroke="#000" stroke-width="3.0" stroke-linecap="round"/>
<line x1="238.2" y1="485.8" x2="238.2" y2="493.3" stroke="#000" stroke-width="3.0" stroke-linecap="round"/>
<line x1="258.54" y1="925.4" x2="258.54" y2="917.9" stroke="#000" stroke-width="3.0" stroke-linecap="round"/>
<line x1="258.54" y1="485.8" x2="258.54" y2="493.3" stroke="#000" stroke-width="3.0" stroke-linecap="round"/>
<line x1="278.88" y1="925.4" x2="278.88" y2="917.9" stroke="#000" stroke-width="3.0" stroke-linecap="round"/>
<line x1="278.88" y1="485.8" x2="278.88" y2="493.3" stroke="#000" stroke-width="3.0" stroke-linecap="round"/>
<line x1="299.21" y1="925.4" x2="299.21" y2="909.9" stroke="#000" stroke-width="3.0" stroke-linecap="round"/>
<line x1="299.21" y1="485.8" x2="299.21" y2="501.3" stroke="#000" stroke-width="3.0" stroke-linecap="round"/>
<line x1="319.55" y1="925.4" x2="319.55" y2="917.9" stroke="#000" stroke-width="3.0" stroke-linecap="round"/>
<line x1="319.55" y1="485.8" x2="319.55" y2="493.3" stroke="#000" stroke-width="3.0" stroke-linecap="round"/>
<line x1="339.89" y1="925.4" x2="339.89" y2="917.9" stroke="#000" stroke-width="3.0" stroke-linecap="round"/>
<line x1="339.89" y1="485.8" x2="339.89" y2="493.3" stroke="#000" stroke-width="3.0" stroke-linecap="round"/>
<line x1="360.23" y1="925.4" x2="360.23" y2="917.9" stroke="#000" stroke-width="3.0" stroke-linecap="round"/>
<line x1="360.23" y1="485.8" x2="360.23" y2="493.3" stroke="#000" stroke-width="3.0" stroke-linecap="round"/>
<line x1="380.57" y1="925.4" x2="380.57" y2="909.9" stroke="#000" stroke-width="3.0" stroke-linecap="round"/>
<line x1="380.57" y1="485.8" x2="380.57" y2="501.3" stroke="#000" stroke-width="3.0" stroke-linecap="round"/>
<line x1="400.91" y1="925.4" x2="400.91" y2="917.9" stroke="#000" stroke-width="3.0" stroke-linecap="round"/>
<line x1="400.91" y1="485.8" x2="400.91" y2="493.3" stroke="#000" stroke-width="3.0" stroke-linecap="round"/>
<line x1="421.25" y1="925.4" x2="421.25" y2="917.9" stroke="#000" stroke-width="3.0" stroke-linecap="round"/>
<line x1="421.25" y1="485.8" x2="421.25" y2="493.3" stroke="#000" stroke-width="3.0" stroke-linecap="round"/>
<line x1="441.59" y1="925.4" x2="441.59" y2="917.9" stroke="#000" stroke-width="3.0" stroke-linecap="round"/>
<line x1="441.59" y1="485.8" x2="441.59" y2="493.3" stroke="#000" stroke-width="3.0" stroke-linecap="round"/>
<line x1="461.93" y1="925.4" x2="461.93" y2="909.9" stroke="#000" stroke-width="3.0" stroke-linecap="round"/>
<line x1="461.93" y1="485.8" x2="461.93" y2="501.3" stroke="#000" stroke-width="3.0" stroke-linecap="round"/>
<line x1="482.27" y1="925.4" x2="482.27" y2="917.9" stroke="#000" stroke-width="3.0" stroke-linecap="round"/>
<line x1="482.27" y1="485.8" x2="482.27" y2="493.3" stroke="#000" stroke-width="3.0" stroke-linecap="round"/>
<line x1="502.61" y1="925.4" x2="502.61" y2="917.9" stroke="#000" stroke-width="3.0" stroke-linecap="round"/>
<line x1="502.61" y1="485.8" x2="502.61" y2="493.3" stroke="#000" stroke-width="3.0" stroke-linecap="round"/>
<line x1="522.95" y1="925.4" x2="522.95" y2="917.9" stroke="#000" stroke-width="3.0" stroke-linecap="round"/>
<line x1="522.95" y1="485.8" x2="522.95" y2="493.3" stroke="#000" stroke-width="3.0" stroke-linecap="round"/>
<line x1="543.29" y1="925.4" x2="543.29" y2="909.9" stroke="#000" stroke-width="3.0" stroke-linecap="round"/>
<line x1="543.29" y1="485.8" x2="543.29" y2="501.3" stroke="#000" stroke-width="3.0" stroke-linecap="round"/>
<line x1="563.62" y1="925.4" x2="563.62" y2="917.9" stroke="#000" stroke-width="3.0" stroke-linecap="round"/>
<line x1="563.62" y1="485.8" x2="563.62" y2="493.3" stroke="#000" stroke-width="3.0" stroke-linecap="round"/>
<line x1="583.96" y1="925.4" x2="583.96" y2="917.9" stroke="#000" stroke-width="3.0" stroke-linecap="round"/>
<line x1="583.96" y1="485.8" x2="583.96" y2="493.3" stroke="#000" stroke-width="3.0" stroke-linecap="round"/>
<line x1="604.3" y1="925.4" x2="604.3" y2="917.9" stroke="#000" stroke-width="3.0" stroke-linecap="round"/>
<line x1="604.3" y1="485.8" x2="604.3" y2="493.3" stroke="#000" stroke-width="3.0" stroke-linecap="round"/>
<line x1="624.64" y1="925.4" x2="624.64" y2="909.9" stroke="#000" stroke-width="3.0" stroke-linecap="round"/>
<line x1="624.64" y1="485.8" x2="624.64" y2="501.3" stroke="#000" stroke-width="3.0" stroke-linecap="round"/>
<line x1="644.98" y1="925.4" x2="644.98" y2="917.9" stroke="#000" stroke-width="3.0" stroke-linecap="round"/>
<line x1="644.98" y1="485.8" x2="644.98" y2="493.3" stroke="#000" stroke-width="3.0" stroke-linecap="round"/>
<line x1="665.32" y1="925.4" x2="665.32" y2="917.9" stroke="#000" stroke-width="3.0" stroke-linecap="round"/>
<line x1="665.32" y1="485.8" x2="665.32" y2="493.3" stroke="#000" stroke-width="3.0" stroke-linecap="round"/>
<line x1="685.66" y1="925.4" x2="685.66" y2="917.9" stroke="#000" stroke-width="3.0" stroke-linecap="round"/>
<line x1="685.66" y1="485.8" x2="685.66" y2="493.3" stroke="#000" stroke-width="3.0" stroke-linecap="round"/>
<line x1="136.5" y1="903.5" x2="144" y2="903.5" stroke="#000" stroke-width="3.0" stroke-linecap="round"/>
<line x1="706" y1="903.5" x2="698.5" y2="903.5" stroke="#000" stroke-width="3.0" stroke-linecap="round"/>
<line x1="136.5" y1="874.9" x2="152" y2="874.9" stroke="#000" stroke-width="3.0" stroke-linecap="round"/>
<line x1="706" y1="874.9" x2="690.5" y2="874.9" stroke="#000" stroke-width="3.0" stroke-linecap="round"/>
<line x1="136.5" y1="846.3" x2="144" y2="846.3" stroke="#000" stroke-width="3.0" stroke-linecap="round"/>
<line x1="706" y1="846.3" x2="698.5" y2="846.3" stroke="#000" stroke-width="3.0" stroke-linecap="round"/>
<line x1="136.5" y1="817.7" x2="152" y2="817.7" stroke="#000" stroke-width="3.0" stroke-linecap="round"/>
<line x1="706" y1="817.7" x2="690.5" y2="817.7" stroke="#000" stroke-width="3.0" stroke-linecap="round"/>
<line x1="136.5" y1="789.1" x2="144" y2="789.1" stroke="#000" stroke-width="3.0" stroke-linecap="round"/>
<line x1="706" y1="789.1" x2="698.5" y2="789.1" stroke="#000" stroke-width="3.0" stroke-linecap="round"/>
<line x1="136.5" y1="760.5" x2="152" y2="760.5" stroke="#000" stroke-width="3.0" stroke-linecap="round"/>
<line x1="706" y1="760.5" x2="690.5" y2="760.5" stroke="#000" stroke-width="3.0" stroke-linecap="round"/>
<line x1="136.5" y1="731.9" x2="144" y2="731.9" stroke="#000" stroke-width="3.0" stroke-linecap="round"/>
<line x1="706" y1="731.9" x2="698.5" y2="731.9" stroke="#000" stroke-width="3.0" stroke-linecap="round"/>
<line x1="136.5" y1="703.3" x2="152" y2="703.3" stroke="#000" stroke-width="3.0" stroke-linecap="round"/>
<line x1="706" y1="703.3" x2="690.5" y2="703.3" stroke="#000" stroke-width="3.0" stroke-linecap="round"/>
<line x1="136.5" y1="674.7" x2="144" y2="674.7" stroke="#000" stroke-width="3.0" stroke-linecap="round"/>
<line x1="706" y1="674.7" x2="698.5" y2="674.7" stroke="#000" stroke-width="3.0" stroke-linecap="round"/>
<line x1="136.5" y1="646.1" x2="152" y2="646.1" stroke="#000" stroke-width="3.0" stroke-linecap="round"/>
<line x1="706" y1="646.1" x2="690.5" y2="646.1" stroke="#000" stroke-width="3.0" stroke-linecap="round"/>
<line x1="136.5" y1="617.5" x2="144" y2="617.5" stroke="#000" stroke-width="3.0" stroke-linecap="round"/>
<line x1="706" y1="617.5" x2="698.5" y2="617.5" stroke="#000" stroke-width="3.0" stroke-linecap="round"/>
<line x1="136.5" y1="588.9" x2="152" y2="588.9" stroke="#000" stroke-width="3.0" stroke-linecap="round"/>
<line x1="706" y1="588.9" x2="690.5" y2="588.9" stroke="#000" stroke-width="3.0" stroke-linecap="round"/>
<line x1="136.5" y1="560.3" x2="144" y2="560.3" stroke="#000" stroke-width="3.0" stroke-linecap="round"/>
<line x1="706" y1="560.3" x2="698.5" y2="560.3" stroke="#000" stroke-width="3.0" stroke-linecap="round"/>
<line x1="136.5" y1="531.7" x2="152" y2="531.7" stroke="#000" stroke-width="3.0" stroke-linecap="round"/>
<line x1="706" y1="531.7" x2="690.5" y2="531.7" stroke="#000" stroke-width="3.0" stroke-linecap="round"/>
<line x1="136.5" y1="503.1" x2="144" y2="503.1" stroke="#000" stroke-width="3.0" stroke-linecap="round"/>
<line x1="706" y1="503.1" x2="698.5" y2="503.1" stroke="#000" stroke-width="3.0" stroke-linecap="round"/>
<g clip-path="url(#cb)">
<polyline points="136.5,651.82 138.53,651.81 140.57,651.79 142.6,651.76 144.64,651.71 146.67,651.65 148.7,651.58 150.74,651.49 152.77,651.39 154.81,651.28 156.84,651.16 158.87,651.02 160.91,650.87 162.94,650.7 164.97,650.53 167.01,650.34 169.04,650.14 171.08,649.92 173.11,649.7 175.14,649.46 177.18,649.21 179.21,648.95 181.25,648.68 183.28,648.39 185.31,648.1 187.35,647.79 189.38,647.48 191.42,647.15 193.45,646.81 195.48,646.46 197.52,646.11 199.55,645.74 201.59,645.36 203.62,644.97 205.65,644.58 207.69,644.17 209.72,643.76 211.76,643.33 213.79,642.9 215.82,642.46 217.86,642.01 219.89,641.55 221.93,641.09 223.96,640.62 225.99,640.14 228.03,639.65 230.06,639.15 232.09,638.65 234.13,638.14 236.16,637.63 238.2,637.1 240.23,636.57 242.26,636.04 244.3,635.5 246.33,634.95 248.37,634.4 250.4,633.84 252.43,633.27 254.47,632.7 256.5,632.12 258.54,631.54 260.57,630.96 262.6,630.36 264.64,629.77 266.67,629.17 268.71,628.56 270.74,627.95 272.77,627.33 274.81,626.71 276.84,626.09 278.88,625.46 280.91,624.83 282.94,624.19 284.98,623.55 287.01,622.91 289.04,622.26 291.08,621.61 293.11,620.96 295.15,620.3 297.18,619.64 299.21,618.97 301.25,618.3 303.28,617.63 305.32,616.96 307.35,616.28 309.38,615.6 311.42,614.92 313.45,614.23 315.49,613.54 317.52,612.85 319.55,612.16 321.59,611.46 323.62,610.76 325.66,610.06 327.69,609.36 329.72,608.65 331.76,607.94 333.79,607.23 335.83,606.52 337.86,605.8 339.89,605.08 341.93,604.36 343.96,603.64 345.99,602.92 348.03,602.19 350.06,601.46 352.1,600.73 354.13,600 356.16,599.27 358.2,598.54 360.23,597.8 362.27,597.06 364.3,596.32 366.33,595.58 368.37,594.84 370.4,594.09 372.44,593.35 374.47,592.6 376.5,591.85 378.54,591.1 380.57,590.35 382.61,589.59 384.64,588.84 386.67,588.08 388.71,587.33 390.74,586.57 392.78,585.81 394.81,585.05 396.84,584.28 398.88,583.52 400.91,582.76 402.94,581.99 404.98,581.22 407.01,580.45 409.05,579.69 411.08,578.92 413.11,578.14 415.15,577.37 417.18,576.6 419.22,575.82 421.25,575.05 423.28,574.27 425.32,573.5 427.35,572.72 429.39,571.94 431.42,571.16 433.45,570.38 435.49,569.6 437.52,568.82 439.56,568.03 441.59,567.25 443.62,566.46 445.66,565.68 447.69,564.89 449.73,564.1 451.76,563.32 453.79,562.53 455.83,561.74 457.86,560.95 459.89,560.16 461.93,559.37 463.96,558.57 466,557.78 468.03,556.99 470.06,556.19 472.1,555.4 474.13,554.6 476.17,553.81 478.2,553.01 480.23,552.22 482.27,551.42 484.3,550.62 486.34,549.82 488.37,549.02 490.4,548.22 492.44,547.42 494.47,546.62 496.51,545.82 498.54,545.02 500.57,544.21 502.61,543.41 504.64,542.61 506.68,541.8 508.71,541 510.74,540.19 512.78,539.39 514.81,538.58 516.84,537.77 518.88,536.97 520.91,536.16 522.95,535.35 524.98,534.54 527.01,533.74 529.05,532.93 531.08,532.12 533.12,531.31 535.15,530.5 537.18,529.69 539.22,528.88 541.25,528.06 543.29,527.25 545.32,526.44 547.35,525.63 549.39,524.81 551.42,524 553.46,523.19 555.49,522.37 557.52,521.56 559.56,520.74 561.59,519.93 563.62,519.11 565.66,518.3 567.69,517.48 569.73,516.67 571.76,515.85 573.79,515.03 575.83,514.22 577.86,513.4 579.9,512.58 581.93,511.76 583.96,510.94 586,510.12 588.03,509.31 590.07,508.49 592.1,507.67 594.13,506.85 596.17,506.03 598.2,505.21 600.24,504.39 602.27,503.56 604.3,502.74 606.34,501.92 608.37,501.1 610.41,500.28 612.44,499.46 614.47,498.63 616.51,497.81 618.54,496.99 620.58,496.16 622.61,495.34 624.64,494.52 626.68,493.69 628.71,492.87 630.74,492.05 632.78,491.22 634.81,490.4 636.85,489.57 638.88,488.75 640.91,487.92 642.95,487.1 644.98,486.27 647.02,485.44 649.05,484.62 651.08,483.79 653.12,482.96 655.15,482.14 657.19,481.31 659.22,480.48 661.25,479.66 663.29,478.83 665.32,478 667.36,477.17 669.39,476.35 671.42,475.52 673.46,474.69 675.49,473.86 677.52,473.03 679.56,472.2 681.59,471.37 683.63,470.54 685.66,469.72 687.69,468.89 689.73,468.06 691.76,467.23 693.8,466.4 695.83,465.57 697.86,464.74 699.9,463.91 701.93,463.07 703.97,462.24 706,461.41" fill="none" stroke="#f00" stroke-width="8"/>
<polyline points="136.5,760.5 138.53,760.51 140.57,760.53 142.6,760.56 144.64,760.61 146.67,760.67 148.7,760.74 150.74,760.83 152.77,760.93 154.81,761.04 156.84,761.16 158.87,761.3 160.91,761.45 162.94,761.62 164.97,761.79 167.01,761.98 169.04,762.18 171.08,762.4 173.11,762.62 175.14,762.86 177.18,763.11 179.21,763.37 181.25,763.64 183.28,763.93 185.31,764.22 187.35,764.53 189.38,764.84 191.42,765.17 193.45,765.51 195.48,765.86 197.52,766.21 199.55,766.58 201.59,766.96 203.62,767.35 205.65,767.74 207.69,768.15 209.72,768.56 211.76,768.99 213.79,769.42 215.82,769.86 217.86,770.31 219.89,770.77 221.93,771.23 223.96,771.7 225.99,772.18 228.03,772.67 230.06,773.17 232.09,773.67 234.13,774.18 236.16,774.69 238.2,775.22 240.23,775.75 242.26,776.28 244.3,776.82 246.33,777.37 248.37,777.92 250.4,778.48 252.43,779.05 254.47,779.62 256.5,780.2 258.54,780.78 260.57,781.36 262.6,781.96 264.64,782.55 266.67,783.15 268.71,783.76 270.74,784.37 272.77,784.99 274.81,785.61 276.84,786.23 278.88,786.86 280.91,787.49 282.94,788.13 284.98,788.77 287.01,789.41 289.04,790.06 291.08,790.71 293.11,791.36 295.15,792.02 297.18,792.68 299.21,793.35 301.25,794.02 303.28,794.69 305.32,795.36 307.35,796.04 309.38,796.72 311.42,797.4 313.45,798.09 315.49,798.78 317.52,799.47 319.55,800.16 321.59,800.86 323.62,801.56 325.66,802.26 327.69,802.96 329.72,803.67 331.76,804.38 333.79,805.09 335.83,805.8 337.86,806.52 339.89,807.24 341.93,807.96 343.96,808.68 345.99,809.4 348.03,810.13 350.06,810.86 352.1,811.59 354.13,812.32 356.16,813.05 358.2,813.78 360.23,814.52 362.27,815.26 364.3,816 366.33,816.74 368.37,817.48 370.4,818.23 372.44,818.97 374.47,819.72 376.5,820.47 378.54,821.22 380.57,821.97 382.61,822.73 384.64,823.48 386.67,824.24 388.71,824.99 390.74,825.75 392.78,826.51 394.81,827.27 396.84,828.04 398.88,828.8 400.91,829.56 402.94,830.33 404.98,831.1 407.01,831.87 409.05,832.63 411.08,833.4 413.11,834.18 415.15,834.95 417.18,835.72 419.22,836.5 421.25,837.27 423.28,838.05 425.32,838.82 427.35,839.6 429.39,840.38 431.42,841.16 433.45,841.94 435.49,842.72 437.52,843.5 439.56,844.29 441.59,845.07 443.62,845.86 445.66,846.64 447.69,847.43 449.73,848.22 451.76,849 453.79,849.79 455.83,850.58 457.86,851.37 459.89,852.16 461.93,852.95 463.96,853.75 466,854.54 468.03,855.33 470.06,856.13 472.1,856.92 474.13,857.72 476.17,858.51 478.2,859.31 480.23,860.1 482.27,860.9 484.3,861.7 486.34,862.5 488.37,863.3 490.4,864.1 492.44,864.9 494.47,865.7 496.51,866.5 498.54,867.3 500.57,868.11 502.61,868.91 504.64,869.71 506.68,870.52 508.71,871.32 510.74,872.13 512.78,872.93 514.81,873.74 516.84,874.55 518.88,875.35 520.91,876.16 522.95,876.97 524.98,877.78 527.01,878.58 529.05,879.39 531.08,880.2 533.12,881.01 535.15,881.82 537.18,882.63 539.22,883.44 541.25,884.26 543.29,885.07 545.32,885.88 547.35,886.69 549.39,887.51 551.42,888.32 553.46,889.13 555.49,889.95 557.52,890.76 559.56,891.58 561.59,892.39 563.62,893.21 565.66,894.02 567.69,894.84 569.73,895.65 571.76,896.47 573.79,897.29 575.83,898.1 577.86,898.92 579.9,899.74 581.93,900.56 583.96,901.38 586,902.2 588.03,903.01 590.07,903.83 592.1,904.65 594.13,905.47 596.17,906.29 598.2,907.11 600.24,907.93 602.27,908.76 604.3,909.58 606.34,910.4 608.37,911.22 610.41,912.04 612.44,912.86 614.47,913.69 616.51,914.51 618.54,915.33 620.58,916.16 622.61,916.98 624.64,917.8 626.68,918.63 628.71,919.45 630.74,920.27 632.78,921.1 634.81,921.92 636.85,922.75 638.88,923.57 640.91,924.4 642.95,925.22 644.98,926.05 647.02,926.88 649.05,927.7 651.08,928.53 653.12,929.36 655.15,930.18 657.19,931.01 659.22,931.84 661.25,932.66 663.29,933.49 665.32,934.32 667.36,935.15 669.39,935.97 671.42,936.8 673.46,937.63 675.49,938.46 677.52,939.29 679.56,940.12 681.59,940.95 683.63,941.78 685.66,942.6 687.69,943.43 689.73,944.26 691.76,945.09 693.8,945.92 695.83,946.75 697.86,947.58 699.9,948.41 701.93,949.25 703.97,950.08 706,950.91" fill="none" stroke="#f00" stroke-width="8"/>
<line x1="136.5" y1="679.28" x2="706.0" y2="679.28" stroke="#f00" stroke-width="8"/>
<polyline points="136.5,679.28 138.53,679.27 140.57,679.24 142.6,679.2 144.64,679.14 146.67,679.06 148.7,678.96 150.74,678.85 152.77,678.72 154.81,678.57 156.84,678.41 158.87,678.22 160.91,678.03 162.94,677.82 164.97,677.59 167.01,677.34 169.04,677.08 171.08,676.81 173.11,676.52 175.14,676.21 177.18,675.9 179.21,675.56 181.25,675.22 183.28,674.86 185.31,674.49 187.35,674.11 189.38,673.71 191.42,673.3 193.45,672.88 195.48,672.45 197.52,672.01 199.55,671.55 201.59,671.09 203.62,670.62 205.65,670.13 207.69,669.64 209.72,669.14 211.76,668.63 213.79,668.11 215.82,667.58 217.86,667.04 219.89,666.5 221.93,665.94 223.96,665.38 225.99,664.81 228.03,664.24 230.06,663.66 232.09,663.07 234.13,662.48 236.16,661.88 238.2,661.27 240.23,660.66 242.26,660.04 244.3,659.41 246.33,658.79 248.37,658.15 250.4,657.51 252.43,656.87 254.47,656.22 256.5,655.57 258.54,654.91 260.57,654.25 262.6,653.58 264.64,652.91 266.67,652.24 268.71,651.56 270.74,650.88 272.77,650.19 274.81,649.5 276.84,648.81 278.88,648.11 280.91,647.42 282.94,646.71 284.98,646.01 287.01,645.3 289.04,644.59 291.08,643.88 293.11,643.16 295.15,642.44 297.18,641.72 299.21,641 301.25,640.27 303.28,639.54 305.32,638.81 307.35,638.08 309.38,637.35 311.42,636.61 313.45,635.87 315.49,635.13 317.52,634.39 319.55,633.64 321.59,632.89 323.62,632.15 325.66,631.39 327.69,630.64 329.72,629.89 331.76,629.13 333.79,628.38 335.83,627.62 337.86,626.86 339.89,626.1 341.93,625.33 343.96,624.57 345.99,623.81 348.03,623.04 350.06,622.27 352.1,621.5 354.13,620.73 356.16,619.96 358.2,619.19 360.23,618.41 362.27,617.64 364.3,616.86 366.33,616.08 368.37,615.3 370.4,614.52 372.44,613.74 374.47,612.96 376.5,612.18 378.54,611.4 380.57,610.61 382.61,609.83 384.64,609.04 386.67,608.25 388.71,607.46 390.74,606.68 392.78,605.89 394.81,605.1 396.84,604.3 398.88,603.51 400.91,602.72 402.94,601.93 404.98,601.13 407.01,600.34 409.05,599.54 411.08,598.75 413.11,597.95 415.15,597.15 417.18,596.35 419.22,595.56 421.25,594.76 423.28,593.96 425.32,593.16 427.35,592.35 429.39,591.55 431.42,590.75 433.45,589.95 435.49,589.14 437.52,588.34 439.56,587.54 441.59,586.73 443.62,585.93 445.66,585.12 447.69,584.31 449.73,583.51 451.76,582.7 453.79,581.89 455.83,581.08 457.86,580.27 459.89,579.47 461.93,578.66 463.96,577.85 466,577.04 468.03,576.23 470.06,575.41 472.1,574.6 474.13,573.79 476.17,572.98 478.2,572.17 480.23,571.35 482.27,570.54 484.3,569.73 486.34,568.91 488.37,568.1 490.4,567.28 492.44,566.47 494.47,565.65 496.51,564.84 498.54,564.02 500.57,563.2 502.61,562.39 504.64,561.57 506.68,560.75 508.71,559.94 510.74,559.12 512.78,558.3 514.81,557.48 516.84,556.66 518.88,555.84 520.91,555.02 522.95,554.2 524.98,553.38 527.01,552.56 529.05,551.74 531.08,550.92 533.12,550.1 535.15,549.28 537.18,548.46 539.22,547.64 541.25,546.82 543.29,546 545.32,545.17 547.35,544.35 549.39,543.53 551.42,542.71 553.46,541.88 555.49,541.06 557.52,540.24 559.56,539.41 561.59,538.59 563.62,537.76 565.66,536.94 567.69,536.12 569.73,535.29 571.76,534.47 573.79,533.64 575.83,532.82 577.86,531.99 579.9,531.17 581.93,530.34 583.96,529.51 586,528.69 588.03,527.86 590.07,527.04 592.1,526.21 594.13,525.38 596.17,524.56 598.2,523.73 600.24,522.9 602.27,522.07 604.3,521.25 606.34,520.42 608.37,519.59 610.41,518.76 612.44,517.94 614.47,517.11 616.51,516.28 618.54,515.45 620.58,514.62 622.61,513.79 624.64,512.96 626.68,512.13 628.71,511.31 630.74,510.48 632.78,509.65 634.81,508.82 636.85,507.99 638.88,507.16 640.91,506.33 642.95,505.5 644.98,504.67 647.02,503.84 649.05,503.01 651.08,502.18 653.12,501.35 655.15,500.51 657.19,499.68 659.22,498.85 661.25,498.02 663.29,497.19 665.32,496.36 667.36,495.53 669.39,494.7 671.42,493.87 673.46,493.03 675.49,492.2 677.52,491.37 679.56,490.54 681.59,489.71 683.63,488.87 685.66,488.04 687.69,487.21 689.73,486.38 691.76,485.54 693.8,484.71 695.83,483.88 697.86,483.05 699.9,482.21 701.93,481.38 703.97,480.55 706,479.71" fill="none" stroke="#1a1ab8" stroke-opacity="0.9" stroke-width="1.7"/>
<polyline points="136.5,760.5 138.53,760.51 140.57,760.54 142.6,760.58 144.64,760.64 146.67,760.72 148.7,760.82 150.74,760.93 152.77,761.06 154.81,761.21 156.84,761.37 158.87,761.55 160.91,761.75 162.94,761.96 164.97,762.19 167.01,762.43 169.04,762.69 171.08,762.97 173.11,763.26 175.14,763.56 177.18,763.88 179.21,764.21 181.25,764.56 183.28,764.91 185.31,765.29 187.35,765.67 189.38,766.07 191.42,766.48 193.45,766.9 195.48,767.33 197.52,767.77 199.55,768.22 201.59,768.69 203.62,769.16 205.65,769.64 207.69,770.14 209.72,770.64 211.76,771.15 213.79,771.67 215.82,772.2 217.86,772.74 219.89,773.28 221.93,773.83 223.96,774.39 225.99,774.96 228.03,775.54 230.06,776.12 232.09,776.7 234.13,777.3 236.16,777.9 238.2,778.51 240.23,779.12 242.26,779.74 244.3,780.36 246.33,780.99 248.37,781.62 250.4,782.26 252.43,782.91 254.47,783.56 256.5,784.21 258.54,784.87 260.57,785.53 262.6,786.2 264.64,786.87 266.67,787.54 268.71,788.22 270.74,788.9 272.77,789.59 274.81,790.27 276.84,790.97 278.88,791.66 280.91,792.36 282.94,793.06 284.98,793.77 287.01,794.47 289.04,795.19 291.08,795.9 293.11,796.61 295.15,797.33 297.18,798.05 299.21,798.78 301.25,799.5 303.28,800.23 305.32,800.96 307.35,801.7 309.38,802.43 311.42,803.17 313.45,803.91 315.49,804.65 317.52,805.39 319.55,806.14 321.59,806.88 323.62,807.63 325.66,808.38 327.69,809.13 329.72,809.89 331.76,810.64 333.79,811.4 335.83,812.16 337.86,812.92 339.89,813.68 341.93,814.44 343.96,815.21 345.99,815.97 348.03,816.74 350.06,817.51 352.1,818.28 354.13,819.05 356.16,819.82 358.2,820.59 360.23,821.36 362.27,822.14 364.3,822.92 366.33,823.69 368.37,824.47 370.4,825.25 372.44,826.03 374.47,826.81 376.5,827.6 378.54,828.38 380.57,829.16 382.61,829.95 384.64,830.74 386.67,831.52 388.71,832.31 390.74,833.1 392.78,833.89 394.81,834.68 396.84,835.47 398.88,836.26 400.91,837.06 402.94,837.85 404.98,838.64 407.01,839.44 409.05,840.23 411.08,841.03 413.11,841.83 415.15,842.62 417.18,843.42 419.22,844.22 421.25,845.02 423.28,845.82 425.32,846.62 427.35,847.42 429.39,848.22 431.42,849.03 433.45,849.83 435.49,850.63 437.52,851.44 439.56,852.24 441.59,853.04 443.62,853.85 445.66,854.66 447.69,855.46 449.73,856.27 451.76,857.08 453.79,857.88 455.83,858.69 457.86,859.5 459.89,860.31 461.93,861.12 463.96,861.93 466,862.74 468.03,863.55 470.06,864.36 472.1,865.17 474.13,865.99 476.17,866.8 478.2,867.61 480.23,868.42 482.27,869.24 484.3,870.05 486.34,870.86 488.37,871.68 490.4,872.49 492.44,873.31 494.47,874.12 496.51,874.94 498.54,875.76 500.57,876.57 502.61,877.39 504.64,878.21 506.68,879.02 508.71,879.84 510.74,880.66 512.78,881.48 514.81,882.3 516.84,883.11 518.88,883.93 520.91,884.75 522.95,885.57 524.98,886.39 527.01,887.21 529.05,888.03 531.08,888.85 533.12,889.67 535.15,890.49 537.18,891.32 539.22,892.14 541.25,892.96 543.29,893.78 545.32,894.6 547.35,895.42 549.39,896.25 551.42,897.07 553.46,897.89 555.49,898.72 557.52,899.54 559.56,900.36 561.59,901.19 563.62,902.01 565.66,902.84 567.69,903.66 569.73,904.48 571.76,905.31 573.79,906.13 575.83,906.96 577.86,907.78 579.9,908.61 581.93,909.44 583.96,910.26 586,911.09 588.03,911.91 590.07,912.74 592.1,913.57 594.13,914.39 596.17,915.22 598.2,916.05 600.24,916.87 602.27,917.7 604.3,918.53 606.34,919.36 608.37,920.18 610.41,921.01 612.44,921.84 614.47,922.67 616.51,923.5 618.54,924.33 620.58,925.15 622.61,925.98 624.64,926.81 626.68,927.64 628.71,928.47 630.74,929.3 632.78,930.13 634.81,930.96 636.85,931.79 638.88,932.62 640.91,933.45 642.95,934.28 644.98,935.11 647.02,935.94 649.05,936.77 651.08,937.6 653.12,938.43 655.15,939.26 657.19,940.09 659.22,940.92 661.25,941.75 663.29,942.59 665.32,943.42 667.36,944.25 669.39,945.08 671.42,945.91 673.46,946.74 675.49,947.57 677.52,948.41 679.56,949.24 681.59,950.07 683.63,950.9 685.66,951.73 687.69,952.57 689.73,953.4 691.76,954.23 693.8,955.07 695.83,955.9 697.86,956.73 699.9,957.56 701.93,958.4 703.97,959.23 706,960.06" fill="none" stroke="#1a1ab8" stroke-opacity="0.9" stroke-width="1.7"/>
<line x1="136.5" y1="651.82" x2="706.0" y2="651.82" stroke="#1a1ab8" stroke-opacity="0.9" stroke-width="1.7"/>
</g>
<line x1="396" y1="826" x2="396" y2="617.2" stroke="#000" stroke-width="5.8" stroke-linecap="round"/>
<polygon points="396,586 387.55,616.4 404.45,616.4" fill="#000" stroke="#000" stroke-width="3.6" stroke-linejoin="round"/>
<line x1="536.5" y1="891.8" x2="536.5" y2="683" stroke="#00f" stroke-width="5.8" stroke-linecap="round"/>
<polygon points="536.5,651.8 528.05,682.2 544.95,682.2" fill="#00f" stroke="#00f" stroke-width="3.6" stroke-linejoin="round"/>
<line x1="626" y1="914.8" x2="626" y2="710" stroke="#f00" stroke-width="5.8" stroke-linecap="round"/>
<polygon points="626,683.8 617.55,709.2 634.45,709.2" fill="#f00" stroke="#f00" stroke-width="3.6" stroke-linejoin="round"/>
<text x="158.75" y="543.4" font-size="48.4" text-anchor="start" fill="#000" stroke="#000" stroke-width="0.4"  >(b)</text>
<g transform="translate(405.7,718.8) scale(1) translate(-405.7,-718.8)"><path d="M424.45,729.95 L423.92,731.35 L423.25,732.73 L422.45,734.06 L421.52,735.33 L420.50,736.49 L419.38,737.55 L418.20,738.48 L416.97,739.26 L415.72,739.88 L414.46,740.33 L413.21,740.61 L412.01,740.70 L410.86,740.61 L409.80,740.33 L408.83,739.88 L407.97,739.26 L407.24,738.48 L406.65,737.55 L406.22,736.49 L405.94,735.33 L405.82,734.06 L405.87,732.73 L406.08,731.35 L406.45,729.95 L406.98,728.55 L407.65,727.17 L408.45,725.84 L409.38,724.58 L410.40,723.41 L411.52,722.35 L412.70,721.42 L413.93,720.64 L415.18,720.02 L416.44,719.57 L417.69,719.29 L418.89,719.20 L420.04,719.29 L421.10,719.57 L422.07,720.02 L422.93,720.64 L423.66,721.42 L424.25,722.35 L424.68,723.41 L424.96,724.58 L425.08,725.84 L425.03,727.17 L424.82,728.55Z M422.40,729.60 L422.71,728.43 L422.92,727.27 L423.02,726.16 L423.00,725.10 L422.88,724.12 L422.64,723.24 L422.31,722.46 L421.87,721.81 L421.34,721.29 L420.72,720.91 L420.04,720.68 L419.29,720.60 L418.50,720.68 L417.67,720.91 L416.82,721.29 L415.97,721.81 L415.12,722.46 L414.30,723.24 L413.52,724.12 L412.79,725.10 L412.12,726.16 L411.52,727.27 L411.01,728.43 L410.60,729.60 L410.29,730.77 L410.08,731.93 L409.98,733.04 L410.00,734.10 L410.12,735.08 L410.36,735.96 L410.69,736.74 L411.13,737.39 L411.66,737.91 L412.28,738.29 L412.96,738.52 L413.71,738.60 L414.50,738.52 L415.33,738.29 L416.18,737.91 L417.03,737.39 L417.88,736.74 L418.70,735.96 L419.48,735.08 L420.21,734.10 L420.88,733.04 L421.48,731.93 L421.99,730.77Z" fill="#000" fill-rule="evenodd"/><path d="M429.0,719.3 L432.6,719.3 L425.0,731.5 L424.8,740.3 L422.6,740.3 L422.7,734.0 Z" fill="#000"/><path d="M423.8,739.4 C424.6,741.6 427.2,740.8 430.0,735.3" fill="none" stroke="#000" stroke-width="1.8" stroke-linecap="round"/></g>
<g transform="translate(545.2,735.6) scale(1) translate(-545.2,-735.6)"><path d="M544.1,776.3 L547.8,767.8 L551.5,757.7 L555.2,746.7 L557.5,741.6 L561.2,741.8 L559.3,746.7 L555.3,757.7 L551.5,767.8 L548.3,776.3 Z" fill="#00f"/><path d="M558.6,742.6 C560.6,738.0 564.2,737.1 567.8,737.1 C571.6,737.1 574.0,738.8 573.5,742.0 C573.0,745.1 570.0,747.4 566.0,748.6" fill="none" stroke="#00f" stroke-width="2.6" stroke-linecap="round"/><path d="M561.3,749.6 C563.0,748.9 564.8,748.7 566.5,748.8" fill="none" stroke="#00f" stroke-width="1.6" stroke-linecap="round"/><path d="M566.0,749.1 C569.4,750.0 570.4,752.5 570.2,755.5 C569.9,759.6 567.0,763.6 562.5,765.4 C559.0,766.7 555.8,766.1 553.4,764.0" fill="none" stroke="#00f" stroke-width="3.3" stroke-linecap="round"/></g>
<g transform="translate(634.8,788.4) scale(1) translate(-634.8,-788.4)"><path d="M637.4,794.6 C638.6,790.6 640.8,788.6 642.6,788.9 C644.6,789.3 644.9,793.2 644.4,797.2 C644.0,800.2 643.4,802.6 642.9,804.6" fill="none" stroke="#f00" stroke-width="2.0" stroke-linecap="round"/><path d="M657.0,788.4 L655.4,788.6 L641.8,805.6 L643.8,806.2 Z" fill="#f00"/><path d="M643.0,805.6 C640.8,809.2 638.6,813.0 637.6,816.0" fill="none" stroke="#f00" stroke-width="3.0" stroke-linecap="round"/><ellipse cx="637.3" cy="815.6" rx="1.9" ry="2.6" transform="rotate(25 637.3 815.6)" fill="#f00"/></g>
<text x="127.3" y="889.5" font-size="41.5" text-anchor="end" fill="#000" stroke="#000" stroke-width="0.4"  >-10</text>
<text x="127.3" y="832.3" font-size="41.5" text-anchor="end" fill="#000" stroke="#000" stroke-width="0.4"  >-5</text>
<text x="127.3" y="775.1" font-size="41.5" text-anchor="end" fill="#000" stroke="#000" stroke-width="0.4"  >0</text>
<text x="127.3" y="717.9" font-size="41.5" text-anchor="end" fill="#000" stroke="#000" stroke-width="0.4"  >5</text>
<text x="127.3" y="660.7" font-size="41.5" text-anchor="end" fill="#000" stroke="#000" stroke-width="0.4"  >10</text>
<text x="127.3" y="603.5" font-size="41.5" text-anchor="end" fill="#000" stroke="#000" stroke-width="0.4"  >15</text>
<text x="127.3" y="546.3" font-size="41.5" text-anchor="end" fill="#000" stroke="#000" stroke-width="0.4"  >20</text>
<text x="136.5" y="966.5" font-size="41.5" text-anchor="middle" fill="#000" stroke="#000" stroke-width="0.4"  >0</text>
<text x="771.4" y="966.5" font-size="41.5" text-anchor="middle" fill="#000" stroke="#000" stroke-width="0.4"  >0</text>
<text x="217.86" y="966.5" font-size="41.5" text-anchor="middle" fill="#000" stroke="#000" stroke-width="0.4"  >2</text>
<text x="854.11" y="966.5" font-size="41.5" text-anchor="middle" fill="#000" stroke="#000" stroke-width="0.4"  >2</text>
<text x="299.21" y="966.5" font-size="41.5" text-anchor="middle" fill="#000" stroke="#000" stroke-width="0.4"  >4</text>
<text x="936.83" y="966.5" font-size="41.5" text-anchor="middle" fill="#000" stroke="#000" stroke-width="0.4"  >4</text>
<text x="380.57" y="966.5" font-size="41.5" text-anchor="middle" fill="#000" stroke="#000" stroke-width="0.4"  >6</text>
<text x="1019.54" y="966.5" font-size="41.5" text-anchor="middle" fill="#000" stroke="#000" stroke-width="0.4"  >6</text>
<text x="461.93" y="966.5" font-size="41.5" text-anchor="middle" fill="#000" stroke="#000" stroke-width="0.4"  >8</text>
<text x="1102.26" y="966.5" font-size="41.5" text-anchor="middle" fill="#000" stroke="#000" stroke-width="0.4"  >8</text>
<text x="543.29" y="966.5" font-size="41.5" text-anchor="middle" fill="#000" stroke="#000" stroke-width="0.4"  >10</text>
<text x="1184.97" y="966.5" font-size="41.5" text-anchor="middle" fill="#000" stroke="#000" stroke-width="0.4"  >10</text>
<text x="624.64" y="966.5" font-size="41.5" text-anchor="middle" fill="#000" stroke="#000" stroke-width="0.4"  >12</text>
<text x="1267.69" y="966.5" font-size="41.5" text-anchor="middle" fill="#000" stroke="#000" stroke-width="0.4"  >12</text>
<text x="706" y="966.5" font-size="41.5" text-anchor="middle" fill="#000" stroke="#000" stroke-width="0.4"  >14</text>
<text x="1350.4" y="966.5" font-size="41.5" text-anchor="middle" fill="#000" stroke="#000" stroke-width="0.4"  >14</text>
<text x="420.6" y="1030.6" font-size="49" text-anchor="middle" fill="#000" stroke="#000" stroke-width="0.4"  >Magnetic field (T)</text>
<text x="1060.4" y="1030.6" font-size="49" text-anchor="middle" fill="#000" stroke="#000" stroke-width="0.4"  >Magnetic field (T)</text>
<rect x="771.4" y="35.4" width="579" height="889.9" fill="none" stroke="#000" stroke-width="3.0" stroke-linejoin="round"/>
<line x1="792.08" y1="925.3" x2="792.08" y2="917.8" stroke="#000" stroke-width="3.0" stroke-linecap="round"/>
<line x1="792.08" y1="35.4" x2="792.08" y2="42.9" stroke="#000" stroke-width="3.0" stroke-linecap="round"/>
<line x1="812.76" y1="925.3" x2="812.76" y2="917.8" stroke="#000" stroke-width="3.0" stroke-linecap="round"/>
<line x1="812.76" y1="35.4" x2="812.76" y2="42.9" stroke="#000" stroke-width="3.0" stroke-linecap="round"/>
<line x1="833.44" y1="925.3" x2="833.44" y2="917.8" stroke="#000" stroke-width="3.0" stroke-linecap="round"/>
<line x1="833.44" y1="35.4" x2="833.44" y2="42.9" stroke="#000" stroke-width="3.0" stroke-linecap="round"/>
<line x1="854.11" y1="925.3" x2="854.11" y2="909.8" stroke="#000" stroke-width="3.0" stroke-linecap="round"/>
<line x1="854.11" y1="35.4" x2="854.11" y2="50.9" stroke="#000" stroke-width="3.0" stroke-linecap="round"/>
<line x1="874.79" y1="925.3" x2="874.79" y2="917.8" stroke="#000" stroke-width="3.0" stroke-linecap="round"/>
<line x1="874.79" y1="35.4" x2="874.79" y2="42.9" stroke="#000" stroke-width="3.0" stroke-linecap="round"/>
<line x1="895.47" y1="925.3" x2="895.47" y2="917.8" stroke="#000" stroke-width="3.0" stroke-linecap="round"/>
<line x1="895.47" y1="35.4" x2="895.47" y2="42.9" stroke="#000" stroke-width="3.0" stroke-linecap="round"/>
<line x1="916.15" y1="925.3" x2="916.15" y2="917.8" stroke="#000" stroke-width="3.0" stroke-linecap="round"/>
<line x1="916.15" y1="35.4" x2="916.15" y2="42.9" stroke="#000" stroke-width="3.0" stroke-linecap="round"/>
<line x1="936.83" y1="925.3" x2="936.83" y2="909.8" stroke="#000" stroke-width="3.0" stroke-linecap="round"/>
<line x1="936.83" y1="35.4" x2="936.83" y2="50.9" stroke="#000" stroke-width="3.0" stroke-linecap="round"/>
<line x1="957.51" y1="925.3" x2="957.51" y2="917.8" stroke="#000" stroke-width="3.0" stroke-linecap="round"/>
<line x1="957.51" y1="35.4" x2="957.51" y2="42.9" stroke="#000" stroke-width="3.0" stroke-linecap="round"/>
<line x1="978.19" y1="925.3" x2="978.19" y2="917.8" stroke="#000" stroke-width="3.0" stroke-linecap="round"/>
<line x1="978.19" y1="35.4" x2="978.19" y2="42.9" stroke="#000" stroke-width="3.0" stroke-linecap="round"/>
<line x1="998.86" y1="925.3" x2="998.86" y2="917.8" stroke="#000" stroke-width="3.0" stroke-linecap="round"/>
<line x1="998.86" y1="35.4" x2="998.86" y2="42.9" stroke="#000" stroke-width="3.0" stroke-linecap="round"/>
<line x1="1019.54" y1="925.3" x2="1019.54" y2="909.8" stroke="#000" stroke-width="3.0" stroke-linecap="round"/>
<line x1="1019.54" y1="35.4" x2="1019.54" y2="50.9" stroke="#000" stroke-width="3.0" stroke-linecap="round"/>
<line x1="1040.22" y1="925.3" x2="1040.22" y2="917.8" stroke="#000" stroke-width="3.0" stroke-linecap="round"/>
<line x1="1040.22" y1="35.4" x2="1040.22" y2="42.9" stroke="#000" stroke-width="3.0" stroke-linecap="round"/>
<line x1="1060.9" y1="925.3" x2="1060.9" y2="917.8" stroke="#000" stroke-width="3.0" stroke-linecap="round"/>
<line x1="1060.9" y1="35.4" x2="1060.9" y2="42.9" stroke="#000" stroke-width="3.0" stroke-linecap="round"/>
<line x1="1081.58" y1="925.3" x2="1081.58" y2="917.8" stroke="#000" stroke-width="3.0" stroke-linecap="round"/>
<line x1="1081.58" y1="35.4" x2="1081.58" y2="42.9" stroke="#000" stroke-width="3.0" stroke-linecap="round"/>
<line x1="1102.26" y1="925.3" x2="1102.26" y2="909.8" stroke="#000" stroke-width="3.0" stroke-linecap="round"/>
<line x1="1102.26" y1="35.4" x2="1102.26" y2="50.9" stroke="#000" stroke-width="3.0" stroke-linecap="round"/>
<line x1="1122.94" y1="925.3" x2="1122.94" y2="917.8" stroke="#000" stroke-width="3.0" stroke-linecap="round"/>
<line x1="1122.94" y1="35.4" x2="1122.94" y2="42.9" stroke="#000" stroke-width="3.0" stroke-linecap="round"/>
<line x1="1143.61" y1="925.3" x2="1143.61" y2="917.8" stroke="#000" stroke-width="3.0" stroke-linecap="round"/>
<line x1="1143.61" y1="35.4" x2="1143.61" y2="42.9" stroke="#000" stroke-width="3.0" stroke-linecap="round"/>
<line x1="1164.29" y1="925.3" x2="1164.29" y2="917.8" stroke="#000" stroke-width="3.0" stroke-linecap="round"/>
<line x1="1164.29" y1="35.4" x2="1164.29" y2="42.9" stroke="#000" stroke-width="3.0" stroke-linecap="round"/>
<line x1="1184.97" y1="925.3" x2="1184.97" y2="909.8" stroke="#000" stroke-width="3.0" stroke-linecap="round"/>
<line x1="1184.97" y1="35.4" x2="1184.97" y2="50.9" stroke="#000" stroke-width="3.0" stroke-linecap="round"/>
<line x1="1205.65" y1="925.3" x2="1205.65" y2="917.8" stroke="#000" stroke-width="3.0" stroke-linecap="round"/>
<line x1="1205.65" y1="35.4" x2="1205.65" y2="42.9" stroke="#000" stroke-width="3.0" stroke-linecap="round"/>
<line x1="1226.33" y1="925.3" x2="1226.33" y2="917.8" stroke="#000" stroke-width="3.0" stroke-linecap="round"/>
<line x1="1226.33" y1="35.4" x2="1226.33" y2="42.9" stroke="#000" stroke-width="3.0" stroke-linecap="round"/>
<line x1="1247.01" y1="925.3" x2="1247.01" y2="917.8" stroke="#000" stroke-width="3.0" stroke-linecap="round"/>
<line x1="1247.01" y1="35.4" x2="1247.01" y2="42.9" stroke="#000" stroke-width="3.0" stroke-linecap="round"/>
<line x1="1267.69" y1="925.3" x2="1267.69" y2="909.8" stroke="#000" stroke-width="3.0" stroke-linecap="round"/>
<line x1="1267.69" y1="35.4" x2="1267.69" y2="50.9" stroke="#000" stroke-width="3.0" stroke-linecap="round"/>
<line x1="1288.36" y1="925.3" x2="1288.36" y2="917.8" stroke="#000" stroke-width="3.0" stroke-linecap="round"/>
<line x1="1288.36" y1="35.4" x2="1288.36" y2="42.9" stroke="#000" stroke-width="3.0" stroke-linecap="round"/>
<line x1="1309.04" y1="925.3" x2="1309.04" y2="917.8" stroke="#000" stroke-width="3.0" stroke-linecap="round"/>
<line x1="1309.04" y1="35.4" x2="1309.04" y2="42.9" stroke="#000" stroke-width="3.0" stroke-linecap="round"/>
<line x1="1329.72" y1="925.3" x2="1329.72" y2="917.8" stroke="#000" stroke-width="3.0" stroke-linecap="round"/>
<line x1="1329.72" y1="35.4" x2="1329.72" y2="42.9" stroke="#000" stroke-width="3.0" stroke-linecap="round"/>
<line x1="771.4" y1="861.74" x2="778.9" y2="861.74" stroke="#000" stroke-width="3.0" stroke-linecap="round"/>
<line x1="1350.4" y1="861.74" x2="1342.9" y2="861.74" stroke="#000" stroke-width="3.0" stroke-linecap="round"/>
<line x1="771.4" y1="798.17" x2="786.9" y2="798.17" stroke="#000" stroke-width="3.0" stroke-linecap="round"/>
<line x1="1350.4" y1="798.17" x2="1334.9" y2="798.17" stroke="#000" stroke-width="3.0" stroke-linecap="round"/>
<line x1="771.4" y1="734.61" x2="778.9" y2="734.61" stroke="#000" stroke-width="3.0" stroke-linecap="round"/>
<line x1="1350.4" y1="734.61" x2="1342.9" y2="734.61" stroke="#000" stroke-width="3.0" stroke-linecap="round"/>
<line x1="771.4" y1="671.04" x2="786.9" y2="671.04" stroke="#000" stroke-width="3.0" stroke-linecap="round"/>
<line x1="1350.4" y1="671.04" x2="1334.9" y2="671.04" stroke="#000" stroke-width="3.0" stroke-linecap="round"/>
<line x1="771.4" y1="607.48" x2="778.9" y2="607.48" stroke="#000" stroke-width="3.0" stroke-linecap="round"/>
<line x1="1350.4" y1="607.48" x2="1342.9" y2="607.48" stroke="#000" stroke-width="3.0" stroke-linecap="round"/>
<line x1="771.4" y1="543.91" x2="786.9" y2="543.91" stroke="#000" stroke-width="3.0" stroke-linecap="round"/>
<line x1="1350.4" y1="543.91" x2="1334.9" y2="543.91" stroke="#000" stroke-width="3.0" stroke-linecap="round"/>
<line x1="771.4" y1="480.35" x2="778.9" y2="480.35" stroke="#000" stroke-width="3.0" stroke-linecap="round"/>
<line x1="1350.4" y1="480.35" x2="1342.9" y2="480.35" stroke="#000" stroke-width="3.0" stroke-linecap="round"/>
<line x1="771.4" y1="416.79" x2="786.9" y2="416.79" stroke="#000" stroke-width="3.0" stroke-linecap="round"/>
<line x1="1350.4" y1="416.79" x2="1334.9" y2="416.79" stroke="#000" stroke-width="3.0" stroke-linecap="round"/>
<line x1="771.4" y1="353.22" x2="778.9" y2="353.22" stroke="#000" stroke-width="3.0" stroke-linecap="round"/>
<line x1="1350.4" y1="353.22" x2="1342.9" y2="353.22" stroke="#000" stroke-width="3.0" stroke-linecap="round"/>
<line x1="771.4" y1="289.66" x2="786.9" y2="289.66" stroke="#000" stroke-width="3.0" stroke-linecap="round"/>
<line x1="1350.4" y1="289.66" x2="1334.9" y2="289.66" stroke="#000" stroke-width="3.0" stroke-linecap="round"/>
<line x1="771.4" y1="226.09" x2="778.9" y2="226.09" stroke="#000" stroke-width="3.0" stroke-linecap="round"/>
<line x1="1350.4" y1="226.09" x2="1342.9" y2="226.09" stroke="#000" stroke-width="3.0" stroke-linecap="round"/>
<line x1="771.4" y1="162.53" x2="786.9" y2="162.53" stroke="#000" stroke-width="3.0" stroke-linecap="round"/>
<line x1="1350.4" y1="162.53" x2="1334.9" y2="162.53" stroke="#000" stroke-width="3.0" stroke-linecap="round"/>
<line x1="771.4" y1="98.96" x2="778.9" y2="98.96" stroke="#000" stroke-width="3.0" stroke-linecap="round"/>
<line x1="1350.4" y1="98.96" x2="1342.9" y2="98.96" stroke="#000" stroke-width="3.0" stroke-linecap="round"/>
<g clip-path="url(#cc)" fill="none" stroke-width="3.6">
<polyline points="771.4,673.59 772.23,673.58 773.05,673.57 773.88,673.54 774.71,673.51 775.54,673.46 776.36,673.41 777.19,673.35 778.02,673.27 778.84,673.19 779.67,673.1 780.5,672.99 781.33,672.88 782.15,672.76 782.98,672.63 783.81,672.49 784.63,672.34 785.46,672.18 786.29,672.01 787.12,671.83 787.94,671.64 788.77,671.44 789.6,671.23 790.42,671.01 791.25,670.79 792.08,670.55 792.91,670.3 793.73,670.05 794.56,669.78 795.39,669.51 796.21,669.22 797.04,668.93 797.87,668.63 798.7,668.32 799.52,668 800.35,667.67 801.18,667.33 802,666.98 802.83,666.62 803.66,666.26 804.49,665.88 805.31,665.5 806.14,665.1 806.97,664.7 807.79,664.29 808.62,663.87 809.45,663.45 810.28,663.01 811.1,662.56 811.93,662.11 812.76,661.65 813.58,661.18 814.41,660.7 815.24,660.21 816.07,659.71 816.89,659.21 817.72,658.7 818.55,658.17 819.37,657.65 820.2,657.11 821.03,656.56 821.86,656.01 822.68,655.45 823.51,654.88 824.34,654.3 825.16,653.72 825.99,653.12 826.82,652.52 827.65,651.91 828.47,651.3 829.3,650.67 830.13,650.04 830.95,649.4 831.78,648.76 832.61,648.11 833.44,647.44 834.26,646.78 835.09,646.1 835.92,645.42 836.74,644.73 837.57,644.03 838.4,643.33 839.23,642.62 840.05,641.9 840.88,641.18 841.71,640.45 842.53,639.71 843.36,638.96 844.19,638.21 845.02,637.46 845.84,636.69 846.67,635.92 847.5,635.14 848.32,634.36 849.15,633.57 849.98,632.77 850.81,631.97 851.63,631.16 852.46,630.35 853.29,629.53 854.11,628.7 854.94,627.87 855.77,627.03 856.6,626.19 857.42,625.34 858.25,624.48 859.08,623.62 859.9,622.75 860.73,621.88 861.56,621 862.39,620.11 863.21,619.22 864.04,618.33 864.87,617.43 865.69,616.52 866.52,615.61 867.35,614.69 868.18,613.77 869,612.85 869.83,611.91 870.66,610.98 871.48,610.03 872.31,609.09 873.14,608.14 873.97,607.18 874.79,606.22 875.62,605.25 876.45,604.28 877.27,603.3 878.1,602.32 878.93,601.34 879.76,600.35 880.58,599.35 881.41,598.35 882.24,597.35 883.06,596.34 883.89,595.33 884.72,594.31 885.55,593.29 886.37,592.27 887.2,591.24 888.03,590.21 888.85,589.17 889.68,588.13 890.51,587.08 891.34,586.03 892.16,584.98 892.99,583.92 893.82,582.86 894.64,581.79 895.47,580.72 896.3,579.65 897.13,578.57 897.95,577.49 898.78,576.41 899.61,575.32 900.43,574.23 901.26,573.13 902.09,572.03 902.92,570.93 903.74,569.82 904.57,568.72 905.4,567.6 906.22,566.49 907.05,565.37 907.88,564.24 908.71,563.12 909.53,561.99 910.36,560.85 911.19,559.72 912.01,558.58 912.84,557.44 913.67,556.29 914.5,555.14 915.32,553.99 916.15,552.84 916.98,551.68 917.8,550.52 918.63,549.35 919.46,548.19 920.29,547.02 921.11,545.85 921.94,544.67 922.77,543.49 923.59,542.31 924.42,541.13 925.25,539.94 926.08,538.75 926.9,537.56 927.73,536.36 928.56,535.17 929.38,533.97 930.21,532.77 931.04,531.56 931.87,530.35 932.69,529.14 933.52,527.93 934.35,526.71 935.17,525.5 936,524.28 936.83,523.05 937.66,521.83 938.48,520.6 939.31,519.37 940.14,518.14 940.96,516.91 941.79,515.67 942.62,514.43 943.45,513.19 944.27,511.95 945.1,510.7 945.93,509.45 946.75,508.2 947.58,506.95 948.41,505.7 949.24,504.44 950.06,503.18 950.89,501.92 951.72,500.66 952.54,499.4 953.37,498.13 954.2,496.86 955.03,495.59 955.85,494.32 956.68,493.04 957.51,491.77 958.33,490.49 959.16,489.21 959.99,487.93 960.82,486.64 961.64,485.36 962.47,484.07 963.3,482.78 964.12,481.49 964.95,480.2 965.78,478.9 966.61,477.61 967.43,476.31 968.26,475.01 969.09,473.71 969.91,472.4 970.74,471.1 971.57,469.79 972.4,468.48 973.22,467.17 974.05,465.86 974.88,464.55 975.7,463.23 976.53,461.92 977.36,460.6 978.19,459.28 979.01,457.96 979.84,456.64 980.67,455.31 981.49,453.99 982.32,452.66 983.15,451.33 983.98,450 984.8,448.67 985.63,447.34 986.46,446 987.28,444.67 988.11,443.33 988.94,441.99 989.77,440.65 990.59,439.31 991.42,437.97 992.25,436.62 993.07,435.28 993.9,433.93 994.73,432.58 995.56,431.23 996.38,429.88 997.21,428.53 998.04,427.18 998.86,425.82 999.69,424.47 1000.52,423.11 1001.35,421.75 1002.17,420.39 1003,419.03 1003.83,417.67 1004.65,416.31 1005.48,414.95 1006.31,413.58 1007.14,412.21 1007.96,410.85 1008.79,409.48 1009.62,408.11 1010.44,406.74 1011.27,405.36 1012.1,403.99 1012.93,402.62 1013.75,401.24 1014.58,399.87 1015.41,398.49 1016.23,397.11 1017.06,395.73 1017.89,394.35 1018.72,392.97 1019.54,391.58 1020.37,390.2 1021.2,388.82 1022.02,387.43 1022.85,386.04 1023.68,384.65 1024.51,383.27 1025.33,381.88 1026.16,380.49 1026.99,379.09 1027.81,377.7 1028.64,376.31 1029.47,374.91 1030.3,373.52 1031.12,372.12 1031.95,370.72 1032.78,369.32 1033.6,367.93 1034.43,366.53 1035.26,365.12 1036.09,363.72 1036.91,362.32 1037.74,360.92 1038.57,359.51 1039.39,358.11 1040.22,356.7 1041.05,355.29 1041.88,353.88 1042.7,352.48 1043.53,351.07 1044.36,349.66 1045.18,348.24 1046.01,346.83 1046.84,345.42 1047.67,344.01 1048.49,342.59 1049.32,341.18 1050.15,339.76 1050.97,338.34 1051.8,336.93 1052.63,335.51 1053.46,334.09 1054.28,332.67 1055.11,331.25 1055.94,329.83 1056.76,328.4 1057.59,326.98 1058.42,325.56 1059.25,324.13 1060.07,322.71 1060.9,321.28 1061.73,319.86 1062.55,318.43 1063.38,317 1064.21,315.57 1065.04,314.14 1065.86,312.71 1066.69,311.28 1067.52,309.85 1068.34,308.42 1069.17,306.99 1070,305.55 1070.83,304.12 1071.65,302.69 1072.48,301.25 1073.31,299.82 1074.13,298.38 1074.96,296.94 1075.79,295.5 1076.62,294.07 1077.44,292.63 1078.27,291.19 1079.1,289.75 1079.92,288.31 1080.75,286.87 1081.58,285.42 1082.41,283.98 1083.23,282.54 1084.06,281.09 1084.89,279.65 1085.71,278.2 1086.54,276.76 1087.37,275.31 1088.2,273.87 1089.02,272.42 1089.85,270.97 1090.68,269.52 1091.5,268.07 1092.33,266.62 1093.16,265.17 1093.99,263.72 1094.81,262.27 1095.64,260.82 1096.47,259.37 1097.29,257.92 1098.12,256.46 1098.95,255.01 1099.78,253.56 1100.6,252.1 1101.43,250.65 1102.26,249.19 1103.08,247.73 1103.91,246.28 1104.74,244.82 1105.57,243.36 1106.39,241.9 1107.22,240.45 1108.05,238.99 1108.87,237.53 1109.7,236.07 1110.53,234.61 1111.36,233.14 1112.18,231.68 1113.01,230.22 1113.84,228.76 1114.66,227.3 1115.49,225.83 1116.32,224.37 1117.15,222.9 1117.97,221.44 1118.8,219.97 1119.63,218.51 1120.45,217.04 1121.28,215.57 1122.11,214.11 1122.94,212.64 1123.76,211.17 1124.59,209.7 1125.42,208.24 1126.24,206.77 1127.07,205.3 1127.9,203.83 1128.73,202.36 1129.55,200.89 1130.38,199.41 1131.21,197.94 1132.03,196.47 1132.86,195 1133.69,193.53 1134.52,192.05 1135.34,190.58 1136.17,189.1 1137,187.63 1137.82,186.16 1138.65,184.68 1139.48,183.2 1140.31,181.73 1141.13,180.25 1141.96,178.78 1142.79,177.3 1143.61,175.82 1144.44,174.34 1145.27,172.87 1146.1,171.39 1146.92,169.91 1147.75,168.43 1148.58,166.95 1149.4,165.47 1150.23,163.99 1151.06,162.51 1151.89,161.03 1152.71,159.55 1153.54,158.06 1154.37,156.58 1155.19,155.1 1156.02,153.62 1156.85,152.13 1157.68,150.65 1158.5,149.17 1159.33,147.68 1160.16,146.2 1160.98,144.71 1161.81,143.23 1162.64,141.74 1163.47,140.26 1164.29,138.77 1165.12,137.28 1165.95,135.8 1166.77,134.31 1167.6,132.82 1168.43,131.33 1169.26,129.85 1170.08,128.36 1170.91,126.87 1171.74,125.38 1172.56,123.89 1173.39,122.4 1174.22,120.91 1175.05,119.42 1175.87,117.93 1176.7,116.44 1177.53,114.95 1178.35,113.46 1179.18,111.97 1180.01,110.47 1180.84,108.98 1181.66,107.49 1182.49,106 1183.32,104.5 1184.14,103.01 1184.97,101.52 1185.8,100.02 1186.63,98.53 1187.45,97.04 1188.28,95.54 1189.11,94.05 1189.93,92.55 1190.76,91.05 1191.59,89.56 1192.42,88.06 1193.24,86.57 1194.07,85.07 1194.9,83.57 1195.72,82.08 1196.55,80.58 1197.38,79.08 1198.21,77.58 1199.03,76.09 1199.86,74.59 1200.69,73.09 1201.51,71.59 1202.34,70.09 1203.17,68.59 1204,67.09 1204.82,65.59 1205.65,64.09 1206.48,62.59 1207.3,61.09 1208.13,59.59 1208.96,58.09 1209.79,56.59 1210.61,55.08 1211.44,53.58 1212.27,52.08 1213.09,50.58 1213.92,49.08 1214.75,47.57 1215.58,46.07 1216.4,44.57 1217.23,43.06 1218.06,41.56 1218.88,40.06 1219.71,38.55 1220.54,37.05 1221.37,35.54 1222.19,34.04 1223.02,32.53 1223.85,31.03 1224.67,29.52 1225.5,28.02 1226.33,26.51 1227.16,25.01 1227.98,23.5 1228.81,21.99 1229.64,20.49 1230.46,18.98 1231.29,17.47 1232.12,15.96" stroke="#f00"/>
<polyline points="771.4,737.15 772.11,737.15 772.82,737.14 773.52,737.13 774.23,737.12 774.94,737.11 775.65,737.09 776.36,737.06 777.07,737.04 777.77,737.01 778.48,736.97 779.19,736.93 779.9,736.89 780.61,736.85 781.32,736.8 782.02,736.75 782.73,736.7 783.44,736.64 784.15,736.58 784.86,736.51 785.57,736.44 786.27,736.37 786.98,736.29 787.69,736.21 788.4,736.13" stroke="#f00" stroke-linecap="round" stroke-linejoin="round"/><polyline points="810.3,731.9 811.01,731.71 811.72,731.52 812.42,731.32 813.13,731.12 813.84,730.92 814.55,730.72 815.26,730.51 815.97,730.3 816.67,730.09 817.38,729.87 818.09,729.65 818.8,729.43 819.51,729.2 820.22,728.97 820.92,728.74 821.63,728.51 822.34,728.27 823.05,728.03 823.76,727.79 824.47,727.54 825.17,727.29 825.88,727.04 826.59,726.79 827.3,726.53" stroke="#f00" stroke-linecap="round" stroke-linejoin="round"/><polyline points="849.2,717.28 849.91,716.94 850.62,716.6 851.32,716.25 852.03,715.91 852.74,715.56 853.45,715.21 854.16,714.86 854.87,714.51 855.57,714.15 856.28,713.79 856.99,713.43 857.7,713.07 858.41,712.7 859.12,712.34 859.82,711.97 860.53,711.6 861.24,711.23 861.95,710.85 862.66,710.47 863.37,710.09 864.07,709.71 864.78,709.33 865.49,708.95 866.2,708.56" stroke="#f00" stroke-linecap="round" stroke-linejoin="round"/><polyline points="888.1,695.72 888.81,695.28 889.52,694.84 890.22,694.39 890.93,693.95 891.64,693.5 892.35,693.05 893.06,692.6 893.77,692.15 894.47,691.7 895.18,691.24 895.89,690.79 896.6,690.33 897.31,689.87 898.02,689.41 898.72,688.95 899.43,688.49 900.14,688.02 900.85,687.56 901.56,687.09 902.27,686.62 902.97,686.15 903.68,685.68 904.39,685.21 905.1,684.74" stroke="#f00" stroke-linecap="round" stroke-linejoin="round"/><polyline points="927,669.54 927.71,669.03 928.42,668.52 929.12,668.01 929.83,667.5 930.54,666.99 931.25,666.47 931.96,665.96 932.67,665.44 933.37,664.93 934.08,664.41 934.79,663.89 935.5,663.37 936.21,662.86 936.92,662.33 937.62,661.81 938.33,661.29 939.04,660.77 939.75,660.24 940.46,659.72 941.17,659.19 941.87,658.67 942.58,658.14 943.29,657.61 944,657.08" stroke="#f00" stroke-linecap="round" stroke-linejoin="round"/><polyline points="965.9,640.35 966.61,639.8 967.32,639.25 968.02,638.7 968.73,638.14 969.44,637.59 970.15,637.03 970.86,636.48 971.57,635.92 972.27,635.36 972.98,634.81 973.69,634.25 974.4,633.69 975.11,633.13 975.82,632.57 976.52,632.01 977.23,631.45 977.94,630.89 978.65,630.32 979.36,629.76 980.07,629.2 980.77,628.63 981.48,628.07 982.19,627.5 982.9,626.94" stroke="#f00" stroke-linecap="round" stroke-linejoin="round"/><polyline points="1004.8,609.2 1005.51,608.62 1006.22,608.04 1006.92,607.46 1007.63,606.88 1008.34,606.29 1009.05,605.71 1009.76,605.13 1010.47,604.54 1011.17,603.96 1011.88,603.37 1012.59,602.79 1013.3,602.2 1014.01,601.62 1014.72,601.03 1015.42,600.44 1016.13,599.85 1016.84,599.27 1017.55,598.68 1018.26,598.09 1018.97,597.5 1019.67,596.91 1020.38,596.32 1021.09,595.73 1021.8,595.14" stroke="#f00" stroke-linecap="round" stroke-linejoin="round"/><polyline points="1043.7,576.72 1044.41,576.12 1045.12,575.52 1045.82,574.92 1046.53,574.32 1047.24,573.72 1047.95,573.11 1048.66,572.51 1049.37,571.91 1050.07,571.3 1050.78,570.7 1051.49,570.1 1052.2,569.49 1052.91,568.89 1053.62,568.28 1054.32,567.68 1055.03,567.07 1055.74,566.47 1056.45,565.86 1057.16,565.26 1057.87,564.65 1058.57,564.04 1059.28,563.44 1059.99,562.83 1060.7,562.22" stroke="#f00" stroke-linecap="round" stroke-linejoin="round"/><polyline points="1082.6,543.32 1083.31,542.71 1084.02,542.09 1084.72,541.48 1085.43,540.86 1086.14,540.24 1086.85,539.63 1087.56,539.01 1088.27,538.4 1088.97,537.78 1089.68,537.16 1090.39,536.54 1091.1,535.93 1091.81,535.31 1092.52,534.69 1093.22,534.07 1093.93,533.46 1094.64,532.84 1095.35,532.22 1096.06,531.6 1096.77,530.98 1097.47,530.36 1098.18,529.74 1098.89,529.12 1099.6,528.5" stroke="#f00" stroke-linecap="round" stroke-linejoin="round"/><polyline points="1121.5,509.26 1122.21,508.63 1122.92,508.01 1123.62,507.38 1124.33,506.76 1125.04,506.13 1125.75,505.5 1126.46,504.88 1127.17,504.25 1127.88,503.63 1128.58,503 1129.29,502.37 1130,501.75 1130.71,501.12 1131.42,500.49 1132.12,499.86 1132.83,499.24 1133.54,498.61 1134.25,497.98 1134.96,497.35 1135.67,496.73 1136.38,496.1 1137.08,495.47 1137.79,494.84 1138.5,494.21" stroke="#f00" stroke-linecap="round" stroke-linejoin="round"/><polyline points="1160.4,474.71 1161.11,474.08 1161.82,473.44 1162.53,472.81 1163.23,472.18 1163.94,471.54 1164.65,470.91 1165.36,470.28 1166.07,469.64 1166.78,469.01 1167.48,468.37 1168.19,467.74 1168.9,467.11 1169.61,466.47 1170.32,465.84 1171.03,465.2 1171.73,464.57 1172.44,463.93 1173.15,463.3 1173.86,462.66 1174.57,462.03 1175.28,461.39 1175.98,460.76 1176.69,460.12 1177.4,459.49" stroke="#f00" stroke-linecap="round" stroke-linejoin="round"/><polyline points="1199.3,439.79 1200.01,439.15 1200.72,438.51 1201.43,437.87 1202.13,437.24 1202.84,436.6 1203.55,435.96 1204.26,435.32 1204.97,434.68 1205.68,434.04 1206.38,433.4 1207.09,432.76 1207.8,432.12 1208.51,431.48 1209.22,430.84 1209.93,430.2 1210.63,429.56 1211.34,428.92 1212.05,428.28 1212.76,427.64 1213.47,427 1214.18,426.36 1214.88,425.72 1215.59,425.08 1216.3,424.44" stroke="#f00" stroke-linecap="round" stroke-linejoin="round"/><polyline points="1238.2,404.59 1238.91,403.95 1239.62,403.3 1240.33,402.66 1241.03,402.02 1241.74,401.37 1242.45,400.73 1243.16,400.08 1243.87,399.44 1244.58,398.8 1245.28,398.15 1245.99,397.51 1246.7,396.87 1247.41,396.22 1248.12,395.58 1248.83,394.93 1249.53,394.29 1250.24,393.64 1250.95,393 1251.66,392.36 1252.37,391.71 1253.08,391.07 1253.78,390.42 1254.49,389.78 1255.2,389.13" stroke="#f00" stroke-linecap="round" stroke-linejoin="round"/><polyline points="1277.1,369.16 1277.81,368.52 1278.52,367.87 1279.23,367.22 1279.93,366.58 1280.64,365.93 1281.35,365.28 1282.06,364.63 1282.77,363.99 1283.48,363.34 1284.18,362.69 1284.89,362.05 1285.6,361.4 1286.31,360.75 1287.02,360.1 1287.73,359.46 1288.43,358.81 1289.14,358.16 1289.85,357.51 1290.56,356.86 1291.27,356.22 1291.98,355.57 1292.68,354.92 1293.39,354.27 1294.1,353.62" stroke="#f00" stroke-linecap="round" stroke-linejoin="round"/><polyline points="1316,333.56 1316.71,332.91 1317.42,332.26 1318.13,331.61 1318.83,330.96 1319.54,330.31 1320.25,329.66 1320.96,329.01 1321.67,328.36 1322.38,327.71 1323.08,327.06 1323.79,326.41 1324.5,325.76 1325.21,325.11 1325.92,324.46 1326.63,323.81 1327.33,323.16 1328.04,322.51 1328.75,321.86 1329.46,321.21 1330.17,320.56 1330.88,319.91 1331.58,319.26 1332.29,318.6 1333,317.95" stroke="#f00" stroke-linecap="round" stroke-linejoin="round"/>
<polyline points="771.4,861.74 772.23,861.72 773.05,861.66 773.88,861.57 774.71,861.44 775.54,861.27 776.36,861.06 777.19,860.82 778.02,860.54 778.84,860.23 779.67,859.88 780.5,859.5 781.33,859.08 782.15,858.63 782.98,858.15 783.81,857.63 784.63,857.09 785.46,856.51 786.29,855.9 787.12,855.27 787.94,854.61 788.77,853.92 789.6,853.2 790.42,852.46 791.25,851.69 792.08,850.9 792.91,850.08 793.73,849.24 794.56,848.38 795.39,847.5 796.21,846.6 797.04,845.68 797.87,844.73 798.7,843.78 799.52,842.8 800.35,841.8 801.18,840.79 802,839.76 802.83,838.72 803.66,837.66 804.49,836.59 805.31,835.51 806.14,834.41 806.97,833.3 807.79,832.17 808.62,831.03 809.45,829.89 810.28,828.73 811.1,827.56 811.93,826.38 812.76,825.19 813.58,823.99 814.41,822.78 815.24,821.56 816.07,820.33 816.89,819.1 817.72,817.85 818.55,816.6 819.37,815.34 820.2,814.08 821.03,812.81 821.86,811.53 822.68,810.24 823.51,808.95 824.34,807.65 825.16,806.34 825.99,805.03 826.82,803.72 827.65,802.4 828.47,801.07 829.3,799.74 830.13,798.4 830.95,797.06 831.78,795.72 832.61,794.37 833.44,793.01 834.26,791.65 835.09,790.29 835.92,788.92 836.74,787.55 837.57,786.18 838.4,784.8 839.23,783.42 840.05,782.03 840.88,780.65 841.71,779.26 842.53,777.86 843.36,776.46 844.19,775.06 845.02,773.66 845.84,772.25 846.67,770.85 847.5,769.43 848.32,768.02 849.15,766.61 849.98,765.19 850.81,763.77 851.63,762.34 852.46,760.92 853.29,759.49 854.11,758.06 854.94,756.63 855.77,755.19 856.6,753.76 857.42,752.32 858.25,750.88 859.08,749.44 859.9,748 860.73,746.55 861.56,745.1 862.39,743.66 863.21,742.21 864.04,740.75 864.87,739.3 865.69,737.85 866.52,736.39 867.35,734.93 868.18,733.47 869,732.01 869.83,730.55 870.66,729.09 871.48,727.63 872.31,726.16 873.14,724.69 873.97,723.23 874.79,721.76 875.62,720.29 876.45,718.82 877.27,717.34 878.1,715.87 878.93,714.4 879.76,712.92 880.58,711.44 881.41,709.97 882.24,708.49 883.06,707.01 883.89,705.53 884.72,704.05 885.55,702.57 886.37,701.08 887.2,699.6 888.03,698.11 888.85,696.63 889.68,695.14 890.51,693.65 891.34,692.17 892.16,690.68 892.99,689.19 893.82,687.7 894.64,686.21 895.47,684.72 896.3,683.22 897.13,681.73 897.95,680.24 898.78,678.74 899.61,677.25 900.43,675.75 901.26,674.26 902.09,672.76 902.92,671.26 903.74,669.76 904.57,668.27 905.4,666.77 906.22,665.27 907.05,663.77 907.88,662.27 908.71,660.76 909.53,659.26 910.36,657.76 911.19,656.26 912.01,654.75 912.84,653.25 913.67,651.75 914.5,650.24 915.32,648.74 916.15,647.23 916.98,645.72 917.8,644.22 918.63,642.71 919.46,641.2 920.29,639.69 921.11,638.19 921.94,636.68 922.77,635.17 923.59,633.66 924.42,632.15 925.25,630.64 926.08,629.13 926.9,627.62 927.73,626.11 928.56,624.59 929.38,623.08 930.21,621.57 931.04,620.06 931.87,618.54 932.69,617.03 933.52,615.52 934.35,614 935.17,612.49 936,610.97 936.83,609.46 937.66,607.94 938.48,606.43 939.31,604.91 940.14,603.39 940.96,601.88 941.79,600.36 942.62,598.84 943.45,597.33 944.27,595.81 945.1,594.29 945.93,592.77 946.75,591.25 947.58,589.73 948.41,588.22 949.24,586.7 950.06,585.18 950.89,583.66 951.72,582.14 952.54,580.62 953.37,579.1 954.2,577.58 955.03,576.05 955.85,574.53 956.68,573.01 957.51,571.49 958.33,569.97 959.16,568.45 959.99,566.92 960.82,565.4 961.64,563.88 962.47,562.36 963.3,560.83 964.12,559.31 964.95,557.79 965.78,556.26 966.61,554.74 967.43,553.21 968.26,551.69 969.09,550.17 969.91,548.64 970.74,547.12 971.57,545.59 972.4,544.07 973.22,542.54 974.05,541.02 974.88,539.49 975.7,537.96 976.53,536.44 977.36,534.91 978.19,533.39 979.01,531.86 979.84,530.33 980.67,528.81 981.49,527.28 982.32,525.75 983.15,524.22 983.98,522.7 984.8,521.17 985.63,519.64 986.46,518.11 987.28,516.59 988.11,515.06 988.94,513.53 989.77,512 990.59,510.47 991.42,508.94 992.25,507.41 993.07,505.89 993.9,504.36 994.73,502.83 995.56,501.3 996.38,499.77 997.21,498.24 998.04,496.71 998.86,495.18 999.69,493.65 1000.52,492.12 1001.35,490.59 1002.17,489.06 1003,487.53 1003.83,486 1004.65,484.47 1005.48,482.94 1006.31,481.41 1007.14,479.87 1007.96,478.34 1008.79,476.81 1009.62,475.28 1010.44,473.75 1011.27,472.22 1012.1,470.69 1012.93,469.15 1013.75,467.62 1014.58,466.09 1015.41,464.56 1016.23,463.03 1017.06,461.49 1017.89,459.96 1018.72,458.43 1019.54,456.9 1020.37,455.36 1021.2,453.83 1022.02,452.3 1022.85,450.77 1023.68,449.23 1024.51,447.7 1025.33,446.17 1026.16,444.63 1026.99,443.1 1027.81,441.57 1028.64,440.03 1029.47,438.5 1030.3,436.97 1031.12,435.43 1031.95,433.9 1032.78,432.36 1033.6,430.83 1034.43,429.3 1035.26,427.76 1036.09,426.23 1036.91,424.69 1037.74,423.16 1038.57,421.62 1039.39,420.09 1040.22,418.55 1041.05,417.02 1041.88,415.49 1042.7,413.95 1043.53,412.42 1044.36,410.88 1045.18,409.35 1046.01,407.81 1046.84,406.28 1047.67,404.74 1048.49,403.2 1049.32,401.67 1050.15,400.13 1050.97,398.6 1051.8,397.06 1052.63,395.53 1053.46,393.99 1054.28,392.46 1055.11,390.92 1055.94,389.38 1056.76,387.85 1057.59,386.31 1058.42,384.78 1059.25,383.24 1060.07,381.7 1060.9,380.17 1061.73,378.63 1062.55,377.09 1063.38,375.56 1064.21,374.02 1065.04,372.48 1065.86,370.95 1066.69,369.41 1067.52,367.87 1068.34,366.34 1069.17,364.8 1070,363.26 1070.83,361.73 1071.65,360.19 1072.48,358.65 1073.31,357.11 1074.13,355.58 1074.96,354.04 1075.79,352.5 1076.62,350.97 1077.44,349.43 1078.27,347.89 1079.1,346.35 1079.92,344.82 1080.75,343.28 1081.58,341.74 1082.41,340.2 1083.23,338.66 1084.06,337.13 1084.89,335.59 1085.71,334.05 1086.54,332.51 1087.37,330.98 1088.2,329.44 1089.02,327.9 1089.85,326.36 1090.68,324.82 1091.5,323.28 1092.33,321.75 1093.16,320.21 1093.99,318.67 1094.81,317.13 1095.64,315.59 1096.47,314.05 1097.29,312.52 1098.12,310.98 1098.95,309.44 1099.78,307.9 1100.6,306.36 1101.43,304.82 1102.26,303.28 1103.08,301.74 1103.91,300.21 1104.74,298.67 1105.57,297.13 1106.39,295.59 1107.22,294.05 1108.05,292.51 1108.87,290.97 1109.7,289.43 1110.53,287.89 1111.36,286.35 1112.18,284.82 1113.01,283.28 1113.84,281.74 1114.66,280.2 1115.49,278.66 1116.32,277.12 1117.15,275.58 1117.97,274.04 1118.8,272.5 1119.63,270.96 1120.45,269.42 1121.28,267.88 1122.11,266.34 1122.94,264.8 1123.76,263.26 1124.59,261.72 1125.42,260.18 1126.24,258.64 1127.07,257.1 1127.9,255.56 1128.73,254.02 1129.55,252.48 1130.38,250.94 1131.21,249.4 1132.03,247.86 1132.86,246.32 1133.69,244.78 1134.52,243.24 1135.34,241.7 1136.17,240.16 1137,238.62 1137.82,237.08 1138.65,235.54 1139.48,234 1140.31,232.46 1141.13,230.92 1141.96,229.38 1142.79,227.84 1143.61,226.3 1144.44,224.76 1145.27,223.22 1146.1,221.68 1146.92,220.14 1147.75,218.6 1148.58,217.06 1149.4,215.51 1150.23,213.97 1151.06,212.43 1151.89,210.89 1152.71,209.35 1153.54,207.81 1154.37,206.27 1155.19,204.73 1156.02,203.19 1156.85,201.65 1157.68,200.11 1158.5,198.57 1159.33,197.02 1160.16,195.48 1160.98,193.94 1161.81,192.4 1162.64,190.86 1163.47,189.32 1164.29,187.78 1165.12,186.24 1165.95,184.7 1166.77,183.15 1167.6,181.61 1168.43,180.07 1169.26,178.53 1170.08,176.99 1170.91,175.45 1171.74,173.91 1172.56,172.37 1173.39,170.82 1174.22,169.28 1175.05,167.74 1175.87,166.2 1176.7,164.66 1177.53,163.12 1178.35,161.58 1179.18,160.03 1180.01,158.49 1180.84,156.95 1181.66,155.41 1182.49,153.87 1183.32,152.33 1184.14,150.78 1184.97,149.24 1185.8,147.7 1186.63,146.16 1187.45,144.62 1188.28,143.08 1189.11,141.53 1189.93,139.99 1190.76,138.45 1191.59,136.91 1192.42,135.37 1193.24,133.82 1194.07,132.28 1194.9,130.74 1195.72,129.2 1196.55,127.66 1197.38,126.11 1198.21,124.57 1199.03,123.03 1199.86,121.49 1200.69,119.95 1201.51,118.4 1202.34,116.86 1203.17,115.32 1204,113.78 1204.82,112.24 1205.65,110.69 1206.48,109.15 1207.3,107.61 1208.13,106.07 1208.96,104.52 1209.79,102.98 1210.61,101.44 1211.44,99.9 1212.27,98.36 1213.09,96.81 1213.92,95.27 1214.75,93.73 1215.58,92.19 1216.4,90.64 1217.23,89.1 1218.06,87.56 1218.88,86.02 1219.71,84.47 1220.54,82.93 1221.37,81.39 1222.19,79.85 1223.02,78.3 1223.85,76.76 1224.67,75.22 1225.5,73.68 1226.33,72.13 1227.16,70.59 1227.98,69.05 1228.81,67.51 1229.64,65.96 1230.46,64.42 1231.29,62.88 1232.12,61.33 1232.95,59.79 1233.77,58.25 1234.6,56.71 1235.43,55.16 1236.25,53.62 1237.08,52.08 1237.91,50.54 1238.74,48.99 1239.56,47.45 1240.39,45.91 1241.22,44.36 1242.04,42.82 1242.87,41.28 1243.7,39.74 1244.53,38.19 1245.35,36.65 1246.18,35.11 1247.01,33.56 1247.83,32.02 1248.66,30.48 1249.49,28.93 1250.32,27.39 1251.14,25.85 1251.97,24.31 1252.8,22.76 1253.62,21.22 1254.45,19.68 1255.28,18.13 1256.11,16.59" stroke="#13a813"/>
<polyline points="771.4,737.15 772.11,737.16 772.82,737.18 773.52,737.21 774.23,737.26 774.94,737.32 775.65,737.4 776.36,737.49 777.07,737.59 777.77,737.7 778.48,737.83 779.19,737.97 779.9,738.13 780.61,738.3 781.32,738.47 782.02,738.67 782.73,738.87 783.44,739.09 784.15,739.31 784.86,739.55 785.57,739.8 786.27,740.06 786.98,740.33 787.69,740.61 788.4,740.9" stroke="#13a813" stroke-linecap="round" stroke-linejoin="round"/><polyline points="810.3,753.67 811.01,754.17 811.72,754.68 812.42,755.18 813.13,755.7 813.84,756.21 814.55,756.73 815.26,757.25 815.97,757.78 816.67,758.31 817.38,758.84 818.09,759.37 818.8,759.91 819.51,760.45 820.22,760.99 820.92,761.53 821.63,762.08 822.34,762.63 823.05,763.18 823.76,763.74 824.47,764.29 825.17,764.85 825.88,765.41 826.59,765.98 827.3,766.54" stroke="#13a813" stroke-linecap="round" stroke-linejoin="round"/><polyline points="849.2,784.76 849.91,785.36 850.62,785.97 851.32,786.58 852.03,787.19 852.74,787.8 853.45,788.41 854.16,789.03 854.87,789.64 855.57,790.25 856.28,790.87 856.99,791.48 857.7,792.1 858.41,792.72 859.12,793.33 859.82,793.95 860.53,794.57 861.24,795.19 861.95,795.81 862.66,796.43 863.37,797.05 864.07,797.67 864.78,798.29 865.49,798.92 866.2,799.54" stroke="#13a813" stroke-linecap="round" stroke-linejoin="round"/><polyline points="888.1,819.03 888.81,819.66 889.52,820.3 890.22,820.94 890.93,821.57 891.64,822.21 892.35,822.85 893.06,823.48 893.77,824.12 894.47,824.76 895.18,825.4 895.89,826.04 896.6,826.68 897.31,827.32 898.02,827.96 898.72,828.6 899.43,829.24 900.14,829.88 900.85,830.52 901.56,831.16 902.27,831.8 902.97,832.44 903.68,833.08 904.39,833.72 905.1,834.37" stroke="#13a813" stroke-linecap="round" stroke-linejoin="round"/><polyline points="927,854.3 927.71,854.94 928.42,855.59 929.12,856.24 929.83,856.89 930.54,857.53 931.25,858.18 931.96,858.83 932.67,859.48 933.37,860.13 934.08,860.78 934.79,861.42 935.5,862.07 936.21,862.72 936.92,863.37 937.62,864.02 938.33,864.67 939.04,865.32 939.75,865.97 940.46,866.61 941.17,867.26 941.87,867.91 942.58,868.56 943.29,869.21 944,869.86" stroke="#13a813" stroke-linecap="round" stroke-linejoin="round"/><polyline points="965.9,890 966.61,890.65 967.32,891.3 968.02,891.96 968.73,892.61 969.44,893.26 970.15,893.91 970.86,894.57 971.57,895.22 972.27,895.87 972.98,896.53 973.69,897.18 974.4,897.83 975.11,898.49 975.82,899.14 976.52,899.79 977.23,900.45 977.94,901.1 978.65,901.75 979.36,902.41 980.07,903.06 980.77,903.71 981.48,904.37 982.19,905.02 982.9,905.68" stroke="#13a813" stroke-linecap="round" stroke-linejoin="round"/><polyline points="1004.8,924.68 1005.51,924.03 1006.22,923.37 1006.92,922.71 1007.63,922.06 1008.34,921.4 1009.05,920.75 1009.76,920.09 1010.47,919.44 1011.17,918.78 1011.88,918.12 1012.59,917.47 1013.3,916.81 1014.01,916.16 1014.72,915.5 1015.42,914.85 1016.13,914.19 1016.84,913.53 1017.55,912.88 1018.26,912.22 1018.97,911.56 1019.67,910.91 1020.38,910.25 1021.09,909.6 1021.8,908.94" stroke="#13a813" stroke-linecap="round" stroke-linejoin="round"/><polyline points="1043.7,888.63 1044.41,887.98 1045.12,887.32 1045.82,886.66 1046.53,886 1047.24,885.35 1047.95,884.69 1048.66,884.03 1049.37,883.37 1050.07,882.72 1050.78,882.06 1051.49,881.4 1052.2,880.74 1052.91,880.09 1053.62,879.43 1054.32,878.77 1055.03,878.11 1055.74,877.46 1056.45,876.8 1057.16,876.14 1057.87,875.48 1058.57,874.82 1059.28,874.17 1059.99,873.51 1060.7,872.85" stroke="#13a813" stroke-linecap="round" stroke-linejoin="round"/><polyline points="1082.6,852.5 1083.31,851.84 1084.02,851.19 1084.72,850.53 1085.43,849.87 1086.14,849.21 1086.85,848.55 1087.56,847.89 1088.27,847.23 1088.97,846.58 1089.68,845.92 1090.39,845.26 1091.1,844.6 1091.81,843.94 1092.52,843.28 1093.22,842.62 1093.93,841.97 1094.64,841.31 1095.35,840.65 1096.06,839.99 1096.77,839.33 1097.47,838.67 1098.18,838.01 1098.89,837.35 1099.6,836.7" stroke="#13a813" stroke-linecap="round" stroke-linejoin="round"/><polyline points="1121.5,816.32 1122.21,815.66 1122.92,815 1123.62,814.34 1124.33,813.68 1125.04,813.02 1125.75,812.36 1126.46,811.7 1127.17,811.05 1127.88,810.39 1128.58,809.73 1129.29,809.07 1130,808.41 1130.71,807.75 1131.42,807.09 1132.12,806.43 1132.83,805.77 1133.54,805.11 1134.25,804.45 1134.96,803.79 1135.67,803.13 1136.38,802.47 1137.08,801.81 1137.79,801.15 1138.5,800.49" stroke="#13a813" stroke-linecap="round" stroke-linejoin="round"/><polyline points="1160.4,780.1 1161.11,779.44 1161.82,778.78 1162.53,778.12 1163.23,777.46 1163.94,776.8 1164.65,776.14 1165.36,775.48 1166.07,774.82 1166.78,774.16 1167.48,773.5 1168.19,772.84 1168.9,772.18 1169.61,771.52 1170.32,770.86 1171.03,770.2 1171.73,769.54 1172.44,768.88 1173.15,768.22 1173.86,767.56 1174.57,766.9 1175.28,766.24 1175.98,765.58 1176.69,764.92 1177.4,764.26" stroke="#13a813" stroke-linecap="round" stroke-linejoin="round"/><polyline points="1199.3,743.85 1200.01,743.19 1200.72,742.53 1201.43,741.87 1202.13,741.21 1202.84,740.55 1203.55,739.89 1204.26,739.23 1204.97,738.57 1205.68,737.91 1206.38,737.25 1207.09,736.59 1207.8,735.92 1208.51,735.26 1209.22,734.6 1209.93,733.94 1210.63,733.28 1211.34,732.62 1212.05,731.96 1212.76,731.3 1213.47,730.64 1214.18,729.98 1214.88,729.32 1215.59,728.66 1216.3,728" stroke="#13a813" stroke-linecap="round" stroke-linejoin="round"/><polyline points="1238.2,707.58 1238.91,706.92 1239.62,706.26 1240.33,705.6 1241.03,704.94 1241.74,704.28 1242.45,703.61 1243.16,702.95 1243.87,702.29 1244.58,701.63 1245.28,700.97 1245.99,700.31 1246.7,699.65 1247.41,698.99 1248.12,698.33 1248.83,697.67 1249.53,697.01 1250.24,696.35 1250.95,695.69 1251.66,695.03 1252.37,694.37 1253.08,693.7 1253.78,693.04 1254.49,692.38 1255.2,691.72" stroke="#13a813" stroke-linecap="round" stroke-linejoin="round"/><polyline points="1277.1,671.29 1277.81,670.63 1278.52,669.97 1279.23,669.31 1279.93,668.65 1280.64,667.99 1281.35,667.33 1282.06,666.67 1282.77,666.01 1283.48,665.34 1284.18,664.68 1284.89,664.02 1285.6,663.36 1286.31,662.7 1287.02,662.04 1287.73,661.38 1288.43,660.72 1289.14,660.06 1289.85,659.4 1290.56,658.74 1291.27,658.07 1291.98,657.41 1292.68,656.75 1293.39,656.09 1294.1,655.43" stroke="#13a813" stroke-linecap="round" stroke-linejoin="round"/><polyline points="1316,634.99 1316.71,634.33 1317.42,633.67 1318.13,633.01 1318.83,632.35 1319.54,631.69 1320.25,631.03 1320.96,630.37 1321.67,629.7 1322.38,629.04 1323.08,628.38 1323.79,627.72 1324.5,627.06 1325.21,626.4 1325.92,625.74 1326.63,625.08 1327.33,624.42 1328.04,623.75 1328.75,623.09 1329.46,622.43 1330.17,621.77 1330.88,621.11 1331.58,620.45 1332.29,619.79 1333,619.13" stroke="#13a813" stroke-linecap="round" stroke-linejoin="round"/>
<polyline points="771.4,737.15 772.23,737.14 773.05,737.12 773.88,737.09 774.71,737.05 775.54,736.99 776.36,736.92 777.19,736.83 778.02,736.73 778.84,736.62 779.67,736.5 780.5,736.36 781.33,736.21 782.15,736.05 782.98,735.88 783.81,735.69 784.63,735.49 785.46,735.28 786.29,735.05 787.12,734.81 787.94,734.56 788.77,734.3 789.6,734.02 790.42,733.73 791.25,733.43 792.08,733.12 792.91,732.79 793.73,732.46 794.56,732.11 795.39,731.74 796.21,731.37 797.04,730.99 797.87,730.59 798.7,730.18 799.52,729.76 800.35,729.33 801.18,728.88 802,728.43 802.83,727.96 803.66,727.48 804.49,726.99 805.31,726.49 806.14,725.98 806.97,725.46 807.79,724.93 808.62,724.38 809.45,723.83 810.28,723.26 811.1,722.69 811.93,722.1 812.76,721.5 813.58,720.9 814.41,720.28 815.24,719.65 816.07,719.01 816.89,718.37 817.72,717.71 818.55,717.04 819.37,716.37 820.2,715.68 821.03,714.99 821.86,714.28 822.68,713.57 823.51,712.85 824.34,712.11 825.16,711.37 825.99,710.62 826.82,709.86 827.65,709.1 828.47,708.32 829.3,707.54 830.13,706.74 830.95,705.94 831.78,705.13 832.61,704.32 833.44,703.49 834.26,702.66 835.09,701.82 835.92,700.97 836.74,700.11 837.57,699.25 838.4,698.37 839.23,697.5 840.05,696.61 840.88,695.71 841.71,694.81 842.53,693.91 843.36,692.99 844.19,692.07 845.02,691.14 845.84,690.2 846.67,689.26 847.5,688.31 848.32,687.36 849.15,686.39 849.98,685.43 850.81,684.45 851.63,683.47 852.46,682.48 853.29,681.49 854.11,680.49 854.94,679.49 855.77,678.48 856.6,677.46 857.42,676.44 858.25,675.41 859.08,674.38 859.9,673.34 860.73,672.29 861.56,671.24 862.39,670.19 863.21,669.13 864.04,668.06 864.87,666.99 865.69,665.92 866.52,664.83 867.35,663.75 868.18,662.66 869,661.56 869.83,660.46 870.66,659.36 871.48,658.25 872.31,657.14 873.14,656.02 873.97,654.9 874.79,653.77 875.62,652.64 876.45,651.5 877.27,650.36 878.1,649.22 878.93,648.07 879.76,646.92 880.58,645.76 881.41,644.6 882.24,643.44 883.06,642.27 883.89,641.1 884.72,639.92 885.55,638.74 886.37,637.56 887.2,636.37 888.03,635.18 888.85,633.99 889.68,632.79 890.51,631.59 891.34,630.38 892.16,629.18 892.99,627.96 893.82,626.75 894.64,625.53 895.47,624.31 896.3,623.09 897.13,621.86 897.95,620.63 898.78,619.4 899.61,618.16 900.43,616.92 901.26,615.68 902.09,614.43 902.92,613.18 903.74,611.93 904.57,610.68 905.4,609.42 906.22,608.16 907.05,606.9 907.88,605.64 908.71,604.37 909.53,603.1 910.36,601.83 911.19,600.55 912.01,599.27 912.84,597.99 913.67,596.71 914.5,595.42 915.32,594.14 916.15,592.85 916.98,591.55 917.8,590.26 918.63,588.96 919.46,587.66 920.29,586.36 921.11,585.06 921.94,583.75 922.77,582.44 923.59,581.13 924.42,579.82 925.25,578.51 926.08,577.19 926.9,575.87 927.73,574.55 928.56,573.23 929.38,571.9 930.21,570.57 931.04,569.25 931.87,567.92 932.69,566.58 933.52,565.25 934.35,563.91 935.17,562.57 936,561.23 936.83,559.89 937.66,558.55 938.48,557.2 939.31,555.86 940.14,554.51 940.96,553.16 941.79,551.81 942.62,550.45 943.45,549.1 944.27,547.74 945.1,546.38 945.93,545.02 946.75,543.66 947.58,542.29 948.41,540.93 949.24,539.56 950.06,538.19 950.89,536.83 951.72,535.45 952.54,534.08 953.37,532.71 954.2,531.33 955.03,529.96 955.85,528.58 956.68,527.2 957.51,525.82 958.33,524.43 959.16,523.05 959.99,521.67 960.82,520.28 961.64,518.89 962.47,517.5 963.3,516.11 964.12,514.72 964.95,513.33 965.78,511.93 966.61,510.54 967.43,509.14 968.26,507.75 969.09,506.35 969.91,504.95 970.74,503.55 971.57,502.14 972.4,500.74 973.22,499.34 974.05,497.93 974.88,496.52 975.7,495.12 976.53,493.71 977.36,492.3 978.19,490.88 979.01,489.47 979.84,488.06 980.67,486.64 981.49,485.23 982.32,483.81 983.15,482.4 983.98,480.98 984.8,479.56 985.63,478.14 986.46,476.72 987.28,475.29 988.11,473.87 988.94,472.45 989.77,471.02 990.59,469.6 991.42,468.17 992.25,466.74 993.07,465.31 993.9,463.88 994.73,462.45 995.56,461.02 996.38,459.59 997.21,458.15 998.04,456.72 998.86,455.29 999.69,453.85 1000.52,452.41 1001.35,450.98 1002.17,449.54 1003,448.1 1003.83,446.66 1004.65,445.22 1005.48,443.78 1006.31,442.34 1007.14,440.89 1007.96,439.45 1008.79,438 1009.62,436.56 1010.44,435.11 1011.27,433.67 1012.1,432.22 1012.93,430.77 1013.75,429.32 1014.58,427.87 1015.41,426.42 1016.23,424.97 1017.06,423.52 1017.89,422.07 1018.72,420.62 1019.54,419.16 1020.37,417.71 1021.2,416.25 1022.02,414.8 1022.85,413.34 1023.68,411.88 1024.51,410.43 1025.33,408.97 1026.16,407.51 1026.99,406.05 1027.81,404.59 1028.64,403.13 1029.47,401.67 1030.3,400.21 1031.12,398.74 1031.95,397.28 1032.78,395.82 1033.6,394.35 1034.43,392.89 1035.26,391.42 1036.09,389.96 1036.91,388.49 1037.74,387.02 1038.57,385.55 1039.39,384.09 1040.22,382.62 1041.05,381.15 1041.88,379.68 1042.7,378.21 1043.53,376.74 1044.36,375.26 1045.18,373.79 1046.01,372.32 1046.84,370.85 1047.67,369.37 1048.49,367.9 1049.32,366.43 1050.15,364.95 1050.97,363.47 1051.8,362 1052.63,360.52 1053.46,359.05 1054.28,357.57 1055.11,356.09 1055.94,354.61 1056.76,353.13 1057.59,351.65 1058.42,350.17 1059.25,348.69 1060.07,347.21 1060.9,345.73 1061.73,344.25 1062.55,342.77 1063.38,341.28 1064.21,339.8 1065.04,338.32 1065.86,336.83 1066.69,335.35 1067.52,333.87 1068.34,332.38 1069.17,330.9 1070,329.41 1070.83,327.92 1071.65,326.44 1072.48,324.95 1073.31,323.46 1074.13,321.97 1074.96,320.49 1075.79,319 1076.62,317.51 1077.44,316.02 1078.27,314.53 1079.1,313.04 1079.92,311.55 1080.75,310.06 1081.58,308.57 1082.41,307.07 1083.23,305.58 1084.06,304.09 1084.89,302.6 1085.71,301.1 1086.54,299.61 1087.37,298.12 1088.2,296.62 1089.02,295.13 1089.85,293.63 1090.68,292.14 1091.5,290.64 1092.33,289.14 1093.16,287.65 1093.99,286.15 1094.81,284.65 1095.64,283.16 1096.47,281.66 1097.29,280.16 1098.12,278.66 1098.95,277.16 1099.78,275.67 1100.6,274.17 1101.43,272.67 1102.26,271.17 1103.08,269.67 1103.91,268.17 1104.74,266.67 1105.57,265.16 1106.39,263.66 1107.22,262.16 1108.05,260.66 1108.87,259.16 1109.7,257.65 1110.53,256.15 1111.36,254.65 1112.18,253.15 1113.01,251.64 1113.84,250.14 1114.66,248.63 1115.49,247.13 1116.32,245.62 1117.15,244.12 1117.97,242.61 1118.8,241.11 1119.63,239.6 1120.45,238.09 1121.28,236.59 1122.11,235.08 1122.94,233.57 1123.76,232.07 1124.59,230.56 1125.42,229.05 1126.24,227.54 1127.07,226.04 1127.9,224.53 1128.73,223.02 1129.55,221.51 1130.38,220 1131.21,218.49 1132.03,216.98 1132.86,215.47 1133.69,213.96 1134.52,212.45 1135.34,210.94 1136.17,209.43 1137,207.92 1137.82,206.4 1138.65,204.89 1139.48,203.38 1140.31,201.87 1141.13,200.36 1141.96,198.84 1142.79,197.33 1143.61,195.82 1144.44,194.3 1145.27,192.79 1146.1,191.28 1146.92,189.76 1147.75,188.25 1148.58,186.73 1149.4,185.22 1150.23,183.7 1151.06,182.19 1151.89,180.67 1152.71,179.16 1153.54,177.64 1154.37,176.13 1155.19,174.61 1156.02,173.09 1156.85,171.58 1157.68,170.06 1158.5,168.54 1159.33,167.03 1160.16,165.51 1160.98,163.99 1161.81,162.47 1162.64,160.96 1163.47,159.44 1164.29,157.92 1165.12,156.4 1165.95,154.88 1166.77,153.36 1167.6,151.85 1168.43,150.33 1169.26,148.81 1170.08,147.29 1170.91,145.77 1171.74,144.25 1172.56,142.73 1173.39,141.21 1174.22,139.69 1175.05,138.17 1175.87,136.64 1176.7,135.12 1177.53,133.6 1178.35,132.08 1179.18,130.56 1180.01,129.04 1180.84,127.51 1181.66,125.99 1182.49,124.47 1183.32,122.95 1184.14,121.43 1184.97,119.9 1185.8,118.38 1186.63,116.86 1187.45,115.33 1188.28,113.81 1189.11,112.29 1189.93,110.76 1190.76,109.24 1191.59,107.71 1192.42,106.19 1193.24,104.67 1194.07,103.14 1194.9,101.62 1195.72,100.09 1196.55,98.57 1197.38,97.04 1198.21,95.52 1199.03,93.99 1199.86,92.46 1200.69,90.94 1201.51,89.41 1202.34,87.89 1203.17,86.36 1204,84.83 1204.82,83.31 1205.65,81.78 1206.48,80.25 1207.3,78.73 1208.13,77.2 1208.96,75.67 1209.79,74.15 1210.61,72.62 1211.44,71.09 1212.27,69.56 1213.09,68.03 1213.92,66.51 1214.75,64.98 1215.58,63.45 1216.4,61.92 1217.23,60.39 1218.06,58.86 1218.88,57.33 1219.71,55.81 1220.54,54.28 1221.37,52.75 1222.19,51.22 1223.02,49.69 1223.85,48.16 1224.67,46.63 1225.5,45.1 1226.33,43.57 1227.16,42.04 1227.98,40.51 1228.81,38.98 1229.64,37.45 1230.46,35.92 1231.29,34.39 1232.12,32.85 1232.95,31.32 1233.77,29.79 1234.6,28.26 1235.43,26.73 1236.25,25.2 1237.08,23.67 1237.91,22.13 1238.74,20.6 1239.56,19.07 1240.39,17.54 1241.22,16.01" stroke="#00f"/>
<polyline points="771.4,673.59 772.11,673.58 772.82,673.58 773.52,673.56 774.23,673.55 774.94,673.53 775.65,673.5 776.36,673.47 777.07,673.43 777.77,673.39 778.48,673.35 779.19,673.3 779.9,673.24 780.61,673.18 781.32,673.12 782.02,673.05 782.73,672.98 783.44,672.9 784.15,672.81 784.86,672.73 785.57,672.63 786.27,672.54 786.98,672.44 787.69,672.33 788.4,672.22" stroke="#00f" stroke-linecap="round" stroke-linejoin="round"/><polyline points="810.3,666.63 811.01,666.39 811.72,666.14 812.42,665.88 813.13,665.62 813.84,665.36 814.55,665.1 815.26,664.83 815.97,664.56 816.67,664.28 817.38,664 818.09,663.72 818.8,663.43 819.51,663.14 820.22,662.85 820.92,662.55 821.63,662.25 822.34,661.94 823.05,661.64 823.76,661.32 824.47,661.01 825.17,660.69 825.88,660.37 826.59,660.05 827.3,659.72" stroke="#00f" stroke-linecap="round" stroke-linejoin="round"/><polyline points="849.2,648.18 849.91,647.76 850.62,647.35 851.32,646.93 852.03,646.51 852.74,646.08 853.45,645.66 854.16,645.23 854.87,644.8 855.57,644.37 856.28,643.93 856.99,643.5 857.7,643.06 858.41,642.62 859.12,642.17 859.82,641.73 860.53,641.28 861.24,640.83 861.95,640.38 862.66,639.93 863.37,639.48 864.07,639.02 864.78,638.56 865.49,638.1 866.2,637.64" stroke="#00f" stroke-linecap="round" stroke-linejoin="round"/><polyline points="888.1,622.55 888.81,622.04 889.52,621.52 890.22,621.01 890.93,620.5 891.64,619.98 892.35,619.46 893.06,618.94 893.77,618.42 894.47,617.9 895.18,617.38 895.89,616.86 896.6,616.33 897.31,615.8 898.02,615.28 898.72,614.75 899.43,614.22 900.14,613.69 900.85,613.16 901.56,612.63 902.27,612.09 902.97,611.56 903.68,611.02 904.39,610.49 905.1,609.95" stroke="#00f" stroke-linecap="round" stroke-linejoin="round"/><polyline points="927,592.87 927.71,592.3 928.42,591.74 929.12,591.17 929.83,590.6 930.54,590.03 931.25,589.46 931.96,588.89 932.67,588.32 933.37,587.75 934.08,587.18 934.79,586.61 935.5,586.03 936.21,585.46 936.92,584.89 937.62,584.31 938.33,583.73 939.04,583.16 939.75,582.58 940.46,582 941.17,581.42 941.87,580.84 942.58,580.27 943.29,579.68 944,579.1" stroke="#00f" stroke-linecap="round" stroke-linejoin="round"/><polyline points="965.9,560.88 966.61,560.28 967.32,559.68 968.02,559.08 968.73,558.48 969.44,557.88 970.15,557.28 970.86,556.68 971.57,556.08 972.27,555.48 972.98,554.88 973.69,554.28 974.4,553.68 975.11,553.08 975.82,552.47 976.52,551.87 977.23,551.27 977.94,550.66 978.65,550.06 979.36,549.45 980.07,548.85 980.77,548.24 981.48,547.63 982.19,547.03 982.9,546.42" stroke="#00f" stroke-linecap="round" stroke-linejoin="round"/><polyline points="1004.8,527.49 1005.51,526.88 1006.22,526.26 1006.92,525.64 1007.63,525.02 1008.34,524.4 1009.05,523.79 1009.76,523.17 1010.47,522.55 1011.17,521.93 1011.88,521.31 1012.59,520.69 1013.3,520.07 1014.01,519.45 1014.72,518.83 1015.42,518.21 1016.13,517.59 1016.84,516.96 1017.55,516.34 1018.26,515.72 1018.97,515.1 1019.67,514.48 1020.38,513.85 1021.09,513.23 1021.8,512.61" stroke="#00f" stroke-linecap="round" stroke-linejoin="round"/><polyline points="1043.7,493.23 1044.41,492.6 1045.12,491.97 1045.82,491.34 1046.53,490.71 1047.24,490.08 1047.95,489.44 1048.66,488.81 1049.37,488.18 1050.07,487.55 1050.78,486.92 1051.49,486.29 1052.2,485.65 1052.91,485.02 1053.62,484.39 1054.32,483.76 1055.03,483.12 1055.74,482.49 1056.45,481.86 1057.16,481.22 1057.87,480.59 1058.57,479.96 1059.28,479.32 1059.99,478.69 1060.7,478.06" stroke="#00f" stroke-linecap="round" stroke-linejoin="round"/><polyline points="1082.6,458.37 1083.31,457.73 1084.02,457.09 1084.72,456.45 1085.43,455.82 1086.14,455.18 1086.85,454.54 1087.56,453.9 1088.27,453.26 1088.97,452.62 1089.68,451.98 1090.39,451.34 1091.1,450.7 1091.81,450.06 1092.52,449.42 1093.22,448.77 1093.93,448.13 1094.64,447.49 1095.35,446.85 1096.06,446.21 1096.77,445.57 1097.47,444.93 1098.18,444.29 1098.89,443.64 1099.6,443" stroke="#00f" stroke-linecap="round" stroke-linejoin="round"/><polyline points="1121.5,423.11 1122.21,422.46 1122.92,421.82 1123.62,421.17 1124.33,420.52 1125.04,419.88 1125.75,419.23 1126.46,418.59 1127.17,417.94 1127.88,417.3 1128.58,416.65 1129.29,416 1130,415.36 1130.71,414.71 1131.42,414.06 1132.12,413.42 1132.83,412.77 1133.54,412.12 1134.25,411.48 1134.96,410.83 1135.67,410.18 1136.38,409.54 1137.08,408.89 1137.79,408.24 1138.5,407.6" stroke="#00f" stroke-linecap="round" stroke-linejoin="round"/><polyline points="1160.4,387.54 1161.11,386.89 1161.82,386.24 1162.53,385.59 1163.23,384.94 1163.94,384.29 1164.65,383.64 1165.36,382.99 1166.07,382.34 1166.78,381.69 1167.48,381.04 1168.19,380.39 1168.9,379.74 1169.61,379.09 1170.32,378.44 1171.03,377.79 1171.73,377.14 1172.44,376.49 1173.15,375.84 1173.86,375.18 1174.57,374.53 1175.28,373.88 1175.98,373.23 1176.69,372.58 1177.4,371.93" stroke="#00f" stroke-linecap="round" stroke-linejoin="round"/><polyline points="1199.3,351.76 1200.01,351.11 1200.72,350.45 1201.43,349.8 1202.13,349.15 1202.84,348.49 1203.55,347.84 1204.26,347.19 1204.97,346.53 1205.68,345.88 1206.38,345.22 1207.09,344.57 1207.8,343.92 1208.51,343.26 1209.22,342.61 1209.93,341.95 1210.63,341.3 1211.34,340.65 1212.05,339.99 1212.76,339.34 1213.47,338.68 1214.18,338.03 1214.88,337.38 1215.59,336.72 1216.3,336.07" stroke="#00f" stroke-linecap="round" stroke-linejoin="round"/><polyline points="1238.2,315.81 1238.91,315.15 1239.62,314.5 1240.33,313.84 1241.03,313.18 1241.74,312.53 1242.45,311.87 1243.16,311.22 1243.87,310.56 1244.58,309.9 1245.28,309.25 1245.99,308.59 1246.7,307.93 1247.41,307.28 1248.12,306.62 1248.83,305.96 1249.53,305.31 1250.24,304.65 1250.95,303.99 1251.66,303.34 1252.37,302.68 1253.08,302.02 1253.78,301.37 1254.49,300.71 1255.2,300.05" stroke="#00f" stroke-linecap="round" stroke-linejoin="round"/><polyline points="1277.1,279.73 1277.81,279.07 1278.52,278.41 1279.23,277.75 1279.93,277.09 1280.64,276.43 1281.35,275.78 1282.06,275.12 1282.77,274.46 1283.48,273.8 1284.18,273.14 1284.89,272.48 1285.6,271.83 1286.31,271.17 1287.02,270.51 1287.73,269.85 1288.43,269.19 1289.14,268.53 1289.85,267.88 1290.56,267.22 1291.27,266.56 1291.98,265.9 1292.68,265.24 1293.39,264.58 1294.1,263.92" stroke="#00f" stroke-linecap="round" stroke-linejoin="round"/><polyline points="1316,243.54 1316.71,242.88 1317.42,242.22 1318.13,241.56 1318.83,240.9 1319.54,240.24 1320.25,239.58 1320.96,238.92 1321.67,238.26 1322.38,237.6 1323.08,236.94 1323.79,236.28 1324.5,235.62 1325.21,234.96 1325.92,234.3 1326.63,233.64 1327.33,232.98 1328.04,232.32 1328.75,231.66 1329.46,231 1330.17,230.34 1330.88,229.68 1331.58,229.02 1332.29,228.36 1333,227.7" stroke="#00f" stroke-linecap="round" stroke-linejoin="round"/>
</g>
<circle cx="927.7" cy="537.5" r="10.5" fill="#000"/>
<circle cx="949.2" cy="500.8" r="10.5" fill="#000"/>
<circle cx="1008.5" cy="408.9" r="10.5" fill="#000"/>
<circle cx="1016" cy="395.8" r="10.5" fill="#000"/>
<circle cx="1031.1" cy="371.7" r="10.5" fill="#000"/>
<circle cx="1155.9" cy="149.7" r="10.5" fill="#000"/>
<circle cx="1172.1" cy="119.3" r="10.5" fill="#000"/>
<rect x="928.9" y="657.3" width="19" height="19" fill="#f00"/>
<rect x="946.9" y="649.3" width="19" height="19" fill="#f00"/>
<rect x="953.8" y="639.3" width="19" height="19" fill="#f00"/>
<rect x="963" y="632.9" width="19" height="19" fill="#f00"/>
<rect x="1083.6" y="528" width="19" height="19" fill="#f00"/>
<rect x="1112.9" y="491.5" width="19" height="19" fill="#f00"/>
<rect x="1257.9" y="362.1" width="19" height="19" fill="#f00"/>
<polygon points="1175.8,357.9 1163.05,379.7 1188.55,379.7" fill="#00f"/>
<circle cx="932.1" cy="90.9" r="10.6" fill="#000"/>
<polygon points="932.1,125.9 919.1,147.9 945.1,147.9" fill="#00f"/>
<rect x="922" y="180.1" width="19.5" height="18.7" fill="#f00"/>
<g transform="translate(988.2,86.9) scale(0.77) translate(-405.7,-718.8)"><path d="M424.45,729.95 L423.92,731.35 L423.25,732.73 L422.45,734.06 L421.52,735.33 L420.50,736.49 L419.38,737.55 L418.20,738.48 L416.97,739.26 L415.72,739.88 L414.46,740.33 L413.21,740.61 L412.01,740.70 L410.86,740.61 L409.80,740.33 L408.83,739.88 L407.97,739.26 L407.24,738.48 L406.65,737.55 L406.22,736.49 L405.94,735.33 L405.82,734.06 L405.87,732.73 L406.08,731.35 L406.45,729.95 L406.98,728.55 L407.65,727.17 L408.45,725.84 L409.38,724.58 L410.40,723.41 L411.52,722.35 L412.70,721.42 L413.93,720.64 L415.18,720.02 L416.44,719.57 L417.69,719.29 L418.89,719.20 L420.04,719.29 L421.10,719.57 L422.07,720.02 L422.93,720.64 L423.66,721.42 L424.25,722.35 L424.68,723.41 L424.96,724.58 L425.08,725.84 L425.03,727.17 L424.82,728.55Z M422.40,729.60 L422.71,728.43 L422.92,727.27 L423.02,726.16 L423.00,725.10 L422.88,724.12 L422.64,723.24 L422.31,722.46 L421.87,721.81 L421.34,721.29 L420.72,720.91 L420.04,720.68 L419.29,720.60 L418.50,720.68 L417.67,720.91 L416.82,721.29 L415.97,721.81 L415.12,722.46 L414.30,723.24 L413.52,724.12 L412.79,725.10 L412.12,726.16 L411.52,727.27 L411.01,728.43 L410.60,729.60 L410.29,730.77 L410.08,731.93 L409.98,733.04 L410.00,734.10 L410.12,735.08 L410.36,735.96 L410.69,736.74 L411.13,737.39 L411.66,737.91 L412.28,738.29 L412.96,738.52 L413.71,738.60 L414.50,738.52 L415.33,738.29 L416.18,737.91 L417.03,737.39 L417.88,736.74 L418.70,735.96 L419.48,735.08 L420.21,734.10 L420.88,733.04 L421.48,731.93 L421.99,730.77Z" fill="#000" fill-rule="evenodd"/><path d="M429.0,719.3 L432.6,719.3 L425.0,731.5 L424.8,740.3 L422.6,740.3 L422.7,734.0 Z" fill="#000"/><path d="M423.8,739.4 C424.6,741.6 427.2,740.8 430.0,735.3" fill="none" stroke="#000" stroke-width="1.8" stroke-linecap="round"/></g>
<g transform="translate(985.8,130) scale(0.76) translate(-545.2,-735.6)"><path d="M544.1,776.3 L547.8,767.8 L551.5,757.7 L555.2,746.7 L557.5,741.6 L561.2,741.8 L559.3,746.7 L555.3,757.7 L551.5,767.8 L548.3,776.3 Z" fill="#000"/><path d="M558.6,742.6 C560.6,738.0 564.2,737.1 567.8,737.1 C571.6,737.1 574.0,738.8 573.5,742.0 C573.0,745.1 570.0,747.4 566.0,748.6" fill="none" stroke="#000" stroke-width="2.6" stroke-linecap="round"/><path d="M561.3,749.6 C563.0,748.9 564.8,748.7 566.5,748.8" fill="none" stroke="#000" stroke-width="1.6" stroke-linecap="round"/><path d="M566.0,749.1 C569.4,750.0 570.4,752.5 570.2,755.5 C569.9,759.6 567.0,763.6 562.5,765.4 C559.0,766.7 555.8,766.1 553.4,764.0" fill="none" stroke="#000" stroke-width="3.3" stroke-linecap="round"/></g>
<g transform="translate(987.4,185.3) scale(0.785) translate(-634.8,-788.4)"><path d="M637.4,794.6 C638.6,790.6 640.8,788.6 642.6,788.9 C644.6,789.3 644.9,793.2 644.4,797.2 C644.0,800.2 643.4,802.6 642.9,804.6" fill="none" stroke="#000" stroke-width="2.0" stroke-linecap="round"/><path d="M657.0,788.4 L655.4,788.6 L641.8,805.6 L643.8,806.2 Z" fill="#000"/><path d="M643.0,805.6 C640.8,809.2 638.6,813.0 637.6,816.0" fill="none" stroke="#000" stroke-width="3.0" stroke-linecap="round"/><ellipse cx="637.3" cy="815.6" rx="1.9" ry="2.6" transform="rotate(25 637.3 815.6)" fill="#000"/></g>
<text x="789.75" y="89.8" font-size="48.4" text-anchor="start" fill="#000" stroke="#000" stroke-width="0.4"  >(c)</text>
<text x="1362.4" y="937.2" font-size="41.5" text-anchor="start" fill="#000" stroke="#000" stroke-width="0.4"  >0</text>
<text x="1362.4" y="810.07" font-size="41.5" text-anchor="start" fill="#000" stroke="#000" stroke-width="0.4"  >100</text>
<text x="1362.4" y="682.94" font-size="41.5" text-anchor="start" fill="#000" stroke="#000" stroke-width="0.4"  >200</text>
<text x="1362.4" y="555.81" font-size="41.5" text-anchor="start" fill="#000" stroke="#000" stroke-width="0.4"  >300</text>
<text x="1362.4" y="428.69" font-size="41.5" text-anchor="start" fill="#000" stroke="#000" stroke-width="0.4"  >400</text>
<text x="1362.4" y="301.56" font-size="41.5" text-anchor="start" fill="#000" stroke="#000" stroke-width="0.4"  >500</text>
<text x="1362.4" y="174.43" font-size="41.5" text-anchor="start" fill="#000" stroke="#000" stroke-width="0.4"  >600</text>
<text x="1362.4" y="47.3" font-size="41.5" text-anchor="start" fill="#000" stroke="#000" stroke-width="0.4"  >700</text>
<text transform="translate(1462.6,479.05) rotate(90)" font-size="50.2" text-anchor="middle" stroke="#000" stroke-width="0.4">Frequency (GHz)</text>
<text transform="translate(40.9,262) rotate(-90)" font-size="49.8" text-anchor="middle" stroke="#000" stroke-width="0.4">Transmission (<tspan font-style="italic">dI</tspan>/<tspan font-style="italic">dB</tspan>, a.u.)</text>
<text transform="translate(38.7,716.5) rotate(-90)" font-size="49.8" text-anchor="middle" stroke="#000" stroke-width="0.4">Energy/<tspan font-style="italic">k</tspan><tspan font-size="30" dy="19.6">B</tspan><tspan dy="-19.6"> (K)</tspan></text>
</svg>
</body></html>
